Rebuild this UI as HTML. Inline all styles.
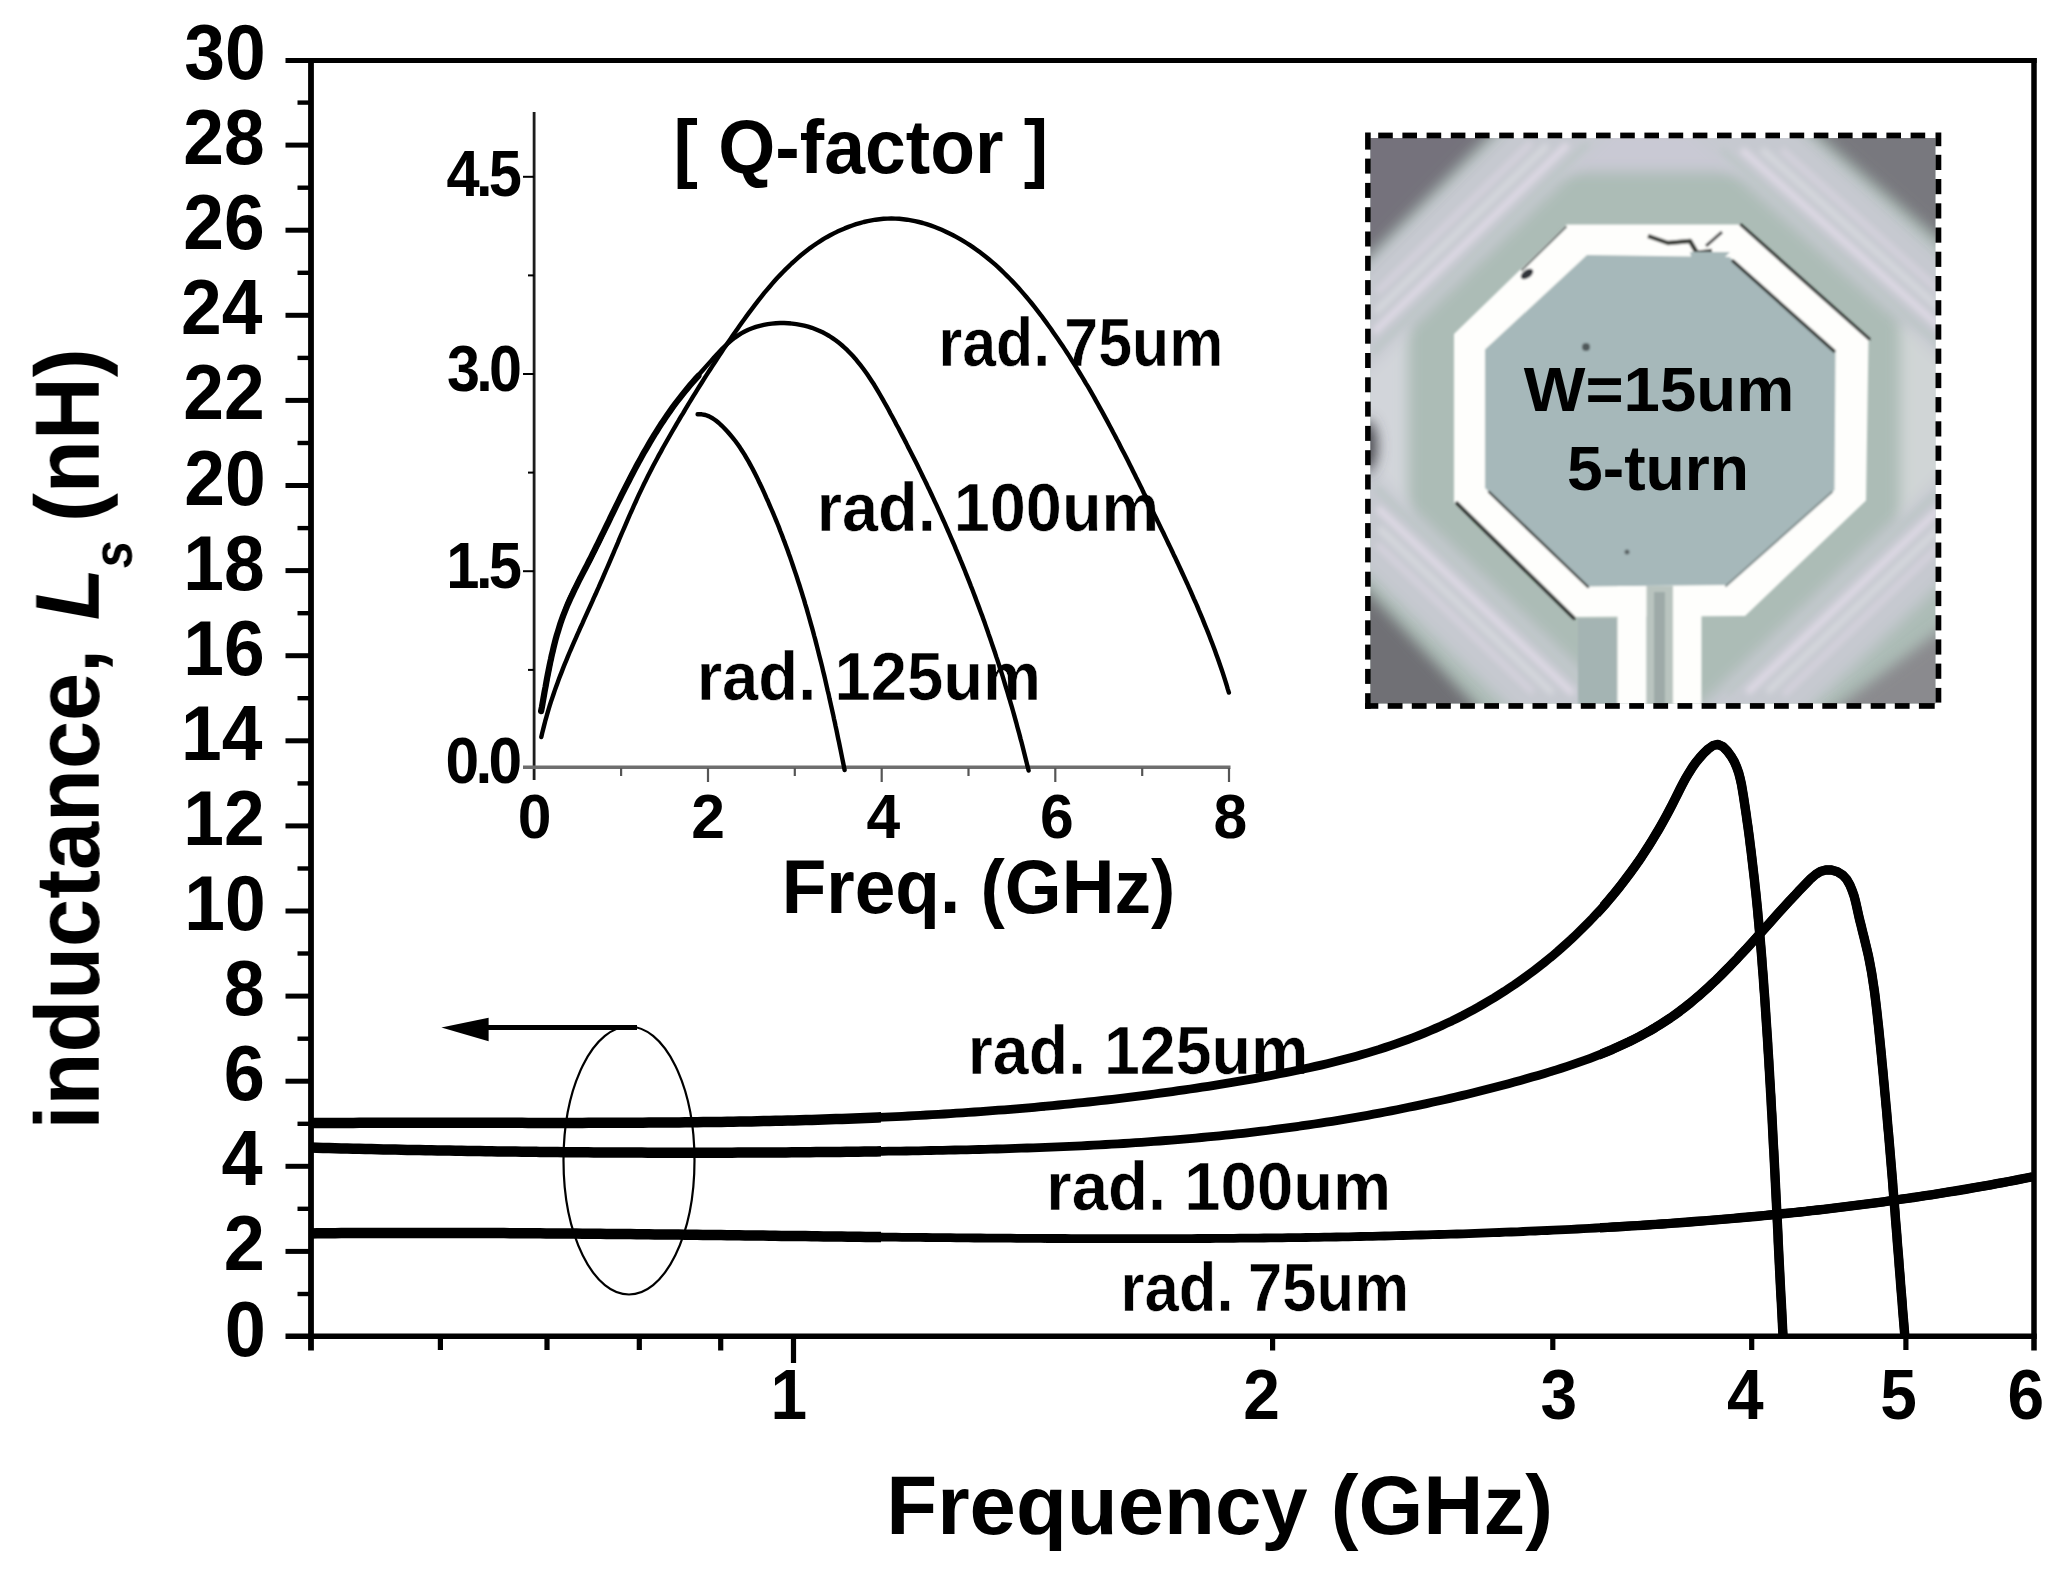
<!DOCTYPE html>
<html lang="en"><head><meta charset="utf-8"><title>Inductance vs Frequency</title>
<style>html,body{margin:0;padding:0;background:#fff}body{width:2070px;height:1585px;overflow:hidden}svg{display:block}text{font-family:"Liberation Sans",sans-serif;font-weight:bold;fill:#000}</style>
</head><body>
<svg width="2070" height="1585" viewBox="0 0 2070 1585">
<defs>
<filter id="b1" x="-5%" y="-5%" width="110%" height="110%"><feGaussianBlur stdDeviation="1.2"/></filter>
<filter id="b3" x="-10%" y="-10%" width="120%" height="120%"><feGaussianBlur stdDeviation="3"/></filter>
<filter id="b6" x="-20%" y="-20%" width="140%" height="140%"><feGaussianBlur stdDeviation="7"/></filter>
<filter id="soft" x="-2%" y="-2%" width="104%" height="104%"><feGaussianBlur stdDeviation="0.6"/></filter>
<clipPath id="pc"><rect x="1370.4" y="138" width="565" height="565.4"/></clipPath>
<clipPath id="mc"><rect x="311.0" y="60.0" width="1721.5" height="1278.5"/></clipPath>
<clipPath id="lc"><rect x="311" y="1000" width="570" height="300"/></clipPath>
<clipPath id="rc"><rect x="1600" y="60" width="440" height="1280"/></clipPath>
</defs>
<rect x="0" y="0" width="2070" height="1585" fill="#fff"/>
<g clip-path="url(#pc)">
<rect x="1366" y="134" width="577" height="574" fill="#acbcb6"/>
<g filter="url(#b6)">
<rect x="1356" y="322" width="52" height="200" fill="#d2d5da"/>
<rect x="1900" y="322" width="52" height="200" fill="#d0d5d6"/>
<rect x="1556" y="126" width="204" height="46" fill="#c9c9d4"/>
</g>
<g transform="translate(1510.5,279.2) rotate(-44.10)">
<g filter="url(#b6)">
<rect x="-260" y="-112" width="520" height="78" fill="#c6c9d0"/>
</g>
<g filter="url(#b3)">
<rect x="-135" y="-60" width="270" height="6" fill="#e2dce8"/>
<rect x="-120" y="-73" width="240" height="5" fill="#dcdde2"/>
<rect x="-105" y="-86" width="215" height="5" fill="#d9d4e0"/>
<rect x="-150" y="-46" width="300" height="5" fill="#bcc6c6"/>
</g>
</g>
<g transform="translate(1804.2,282.0) rotate(41.83)">
<g filter="url(#b6)">
<rect x="-260" y="-112" width="520" height="78" fill="#c6c9d0"/>
</g>
<g filter="url(#b3)">
<rect x="-135" y="-60" width="270" height="6" fill="#e2dce8"/>
<rect x="-120" y="-73" width="240" height="5" fill="#dcdde2"/>
<rect x="-105" y="-86" width="215" height="5" fill="#d9d4e0"/>
<rect x="-150" y="-46" width="300" height="5" fill="#bcc6c6"/>
</g>
</g>
<g transform="translate(1805.5,558.2) rotate(136.33)">
<g filter="url(#b6)">
<rect x="-260" y="-112" width="520" height="78" fill="#c6c9d0"/>
</g>
<g filter="url(#b3)">
<rect x="-135" y="-60" width="270" height="6" fill="#e2dce8"/>
<rect x="-120" y="-73" width="240" height="5" fill="#dcdde2"/>
<rect x="-105" y="-86" width="215" height="5" fill="#d9d4e0"/>
<rect x="-150" y="-46" width="300" height="5" fill="#bcc6c6"/>
</g>
</g>
<g transform="translate(1514.5,559.5) rotate(-136.46)">
<g filter="url(#b6)">
<rect x="-260" y="-112" width="520" height="78" fill="#c6c9d0"/>
</g>
<g filter="url(#b3)">
<rect x="-135" y="-60" width="270" height="6" fill="#e2dce8"/>
<rect x="-120" y="-73" width="240" height="5" fill="#dcdde2"/>
<rect x="-105" y="-86" width="215" height="5" fill="#d9d4e0"/>
<rect x="-150" y="-46" width="300" height="5" fill="#bcc6c6"/>
</g>
</g>
<g filter="url(#b6)">
<polygon points="1340,108 1516,108 1340,284" fill="#74727c"/>
<polygon points="1965,108 1787,108 1965,261" fill="#78787e"/>
<polygon points="1340,733 1340,562 1501,733" fill="#707074"/>
<polygon points="1965,733 1965,612 1802,733" fill="#8a8a8e"/>
<ellipse cx="1366" cy="446" rx="11" ry="26" fill="#44444c"/>
</g>
<g filter="url(#b1)">
<polygon points="1587,255 1729.5,257 1835.5,351.5 1834.5,490 1726,585 1587,586.6 1485,488 1485,349.6" fill="#a6b8ba"/>
<path d="M1567 224.5 L1740 224.5 L1868.5 339.5 L1866 500.5 L1745 616 L1575 617 L1454 502 L1454 334 Z M1587 255 L1729.5 257 L1835.5 351.5 L1834.5 490 L1726 585 L1587 586.6 L1485 488 L1485 349.6 Z" fill="#fefefc" fill-rule="evenodd"/>
<rect x="1617.5" y="586" width="29" height="130" fill="#fefefc"/>
<rect x="1673" y="586" width="28.5" height="130" fill="#fefefc"/>
<rect x="1646.5" y="586" width="26.5" height="130" fill="#b9c4bf"/>
<rect x="1654" y="592" width="11" height="120" fill="#9eaaa8"/>
<rect x="1578" y="619" width="39" height="90" fill="#a4b4b3"/>
<g stroke="#2a2e2c" fill="none" stroke-linecap="round">
<path d="M1741 225 L1869 339" stroke-width="3"/>
<path d="M1733 261 L1834 351" stroke-width="3.2"/>
<path d="M1457 503 L1574 618" stroke-width="3.4"/>
<path d="M1489 492 L1588 587" stroke-width="2.4"/>
<path d="M1566 227 L1522 270" stroke-width="2" stroke="#6a726f"/>
<path d="M1726 586 L1832 492" stroke-width="2" stroke="#7d8a8a"/>
</g>
<path d="M1648 236 L1668 243 L1690 241 L1697 253 L1712 251" stroke="#3a3c38" stroke-width="4.5" fill="none" stroke-linejoin="round"/>
<path d="M1706 246 L1722 232" stroke="#555" stroke-width="3" fill="none"/>
<path d="M1690 252 L1730 252 L1722 260 L1692 260Z" fill="#a6b8b9"/>
<ellipse cx="1527" cy="274" rx="7" ry="4" fill="#30343a" transform="rotate(-35 1527 274)"/>
<circle cx="1586" cy="347" r="4" fill="#50585a"/>
<circle cx="1627" cy="552" r="2.5" fill="#5a6264"/>
</g>
</g>
<g fill="#000">
<rect x="1378.2" y="132.6" width="14.6" height="5.7"/>
<rect x="1402.4" y="132.6" width="14.6" height="5.7"/>
<rect x="1426.6" y="132.6" width="14.6" height="5.7"/>
<rect x="1450.8" y="132.6" width="14.6" height="5.7"/>
<rect x="1475.0" y="132.6" width="14.6" height="5.7"/>
<rect x="1499.2" y="132.6" width="14.6" height="5.7"/>
<rect x="1523.4" y="132.6" width="14.6" height="5.7"/>
<rect x="1547.6" y="132.6" width="14.6" height="5.7"/>
<rect x="1571.8" y="132.6" width="14.6" height="5.7"/>
<rect x="1596.0" y="132.6" width="14.6" height="5.7"/>
<rect x="1620.2" y="132.6" width="14.6" height="5.7"/>
<rect x="1644.4" y="132.6" width="14.6" height="5.7"/>
<rect x="1668.6" y="132.6" width="14.6" height="5.7"/>
<rect x="1692.8" y="132.6" width="14.6" height="5.7"/>
<rect x="1717.0" y="132.6" width="14.6" height="5.7"/>
<rect x="1741.2" y="132.6" width="14.6" height="5.7"/>
<rect x="1765.4" y="132.6" width="14.6" height="5.7"/>
<rect x="1789.6" y="132.6" width="14.6" height="5.7"/>
<rect x="1813.8" y="132.6" width="14.6" height="5.7"/>
<rect x="1838.0" y="132.6" width="14.6" height="5.7"/>
<rect x="1862.2" y="132.6" width="14.6" height="5.7"/>
<rect x="1886.4" y="132.6" width="14.6" height="5.7"/>
<rect x="1910.6" y="132.6" width="14.6" height="5.7"/>
<rect x="1365.1" y="703.1" width="13.2" height="5.7"/>
<rect x="1387.7" y="703.1" width="14.8" height="5.7"/>
<rect x="1411.8" y="703.1" width="14.8" height="5.7"/>
<rect x="1436.0" y="703.1" width="14.8" height="5.7"/>
<rect x="1460.1" y="703.1" width="14.8" height="5.7"/>
<rect x="1484.2" y="703.1" width="14.8" height="5.7"/>
<rect x="1508.4" y="703.1" width="14.8" height="5.7"/>
<rect x="1532.5" y="703.1" width="14.8" height="5.7"/>
<rect x="1556.7" y="703.1" width="14.8" height="5.7"/>
<rect x="1580.8" y="703.1" width="14.8" height="5.7"/>
<rect x="1605.0" y="703.1" width="14.8" height="5.7"/>
<rect x="1629.2" y="703.1" width="14.8" height="5.7"/>
<rect x="1653.3" y="703.1" width="14.8" height="5.7"/>
<rect x="1677.5" y="703.1" width="14.8" height="5.7"/>
<rect x="1701.6" y="703.1" width="14.8" height="5.7"/>
<rect x="1725.8" y="703.1" width="14.8" height="5.7"/>
<rect x="1749.9" y="703.1" width="14.8" height="5.7"/>
<rect x="1774.0" y="703.1" width="14.8" height="5.7"/>
<rect x="1798.2" y="703.1" width="14.8" height="5.7"/>
<rect x="1822.3" y="703.1" width="14.8" height="5.7"/>
<rect x="1846.5" y="703.1" width="14.8" height="5.7"/>
<rect x="1870.7" y="703.1" width="14.8" height="5.7"/>
<rect x="1894.8" y="703.1" width="14.8" height="5.7"/>
<rect x="1918.9" y="703.1" width="15.8" height="5.7"/>
<rect x="1365.1" y="132.5" width="5.6" height="17.1"/>
<rect x="1365.1" y="158.6" width="5.6" height="15.0"/>
<rect x="1365.1" y="182.9" width="5.6" height="15.0"/>
<rect x="1365.1" y="207.2" width="5.6" height="15.0"/>
<rect x="1365.1" y="231.5" width="5.6" height="15.0"/>
<rect x="1365.1" y="255.8" width="5.6" height="15.0"/>
<rect x="1365.1" y="280.1" width="5.6" height="15.0"/>
<rect x="1365.1" y="304.4" width="5.6" height="15.0"/>
<rect x="1365.1" y="328.7" width="5.6" height="15.0"/>
<rect x="1365.1" y="353.0" width="5.6" height="15.0"/>
<rect x="1365.1" y="377.3" width="5.6" height="15.0"/>
<rect x="1365.1" y="401.6" width="5.6" height="15.0"/>
<rect x="1365.1" y="425.9" width="5.6" height="15.0"/>
<rect x="1365.1" y="450.2" width="5.6" height="15.0"/>
<rect x="1365.1" y="474.5" width="5.6" height="15.0"/>
<rect x="1365.1" y="498.8" width="5.6" height="15.0"/>
<rect x="1365.1" y="523.1" width="5.6" height="15.0"/>
<rect x="1365.1" y="547.4" width="5.6" height="15.0"/>
<rect x="1365.1" y="571.7" width="5.6" height="15.0"/>
<rect x="1365.1" y="596.0" width="5.6" height="15.0"/>
<rect x="1365.1" y="620.3" width="5.6" height="15.0"/>
<rect x="1365.1" y="644.6" width="5.6" height="15.0"/>
<rect x="1365.1" y="668.9" width="5.6" height="15.0"/>
<rect x="1365.1" y="693.2" width="5.6" height="15.6"/>
<rect x="1935.5" y="132.5" width="5.8" height="13.7"/>
<rect x="1935.5" y="154.8" width="5.8" height="15.2"/>
<rect x="1935.5" y="179.0" width="5.8" height="15.2"/>
<rect x="1935.5" y="203.3" width="5.8" height="15.2"/>
<rect x="1935.5" y="227.5" width="5.8" height="15.2"/>
<rect x="1935.5" y="251.7" width="5.8" height="15.2"/>
<rect x="1935.5" y="276.0" width="5.8" height="15.2"/>
<rect x="1935.5" y="300.2" width="5.8" height="15.2"/>
<rect x="1935.5" y="324.4" width="5.8" height="15.2"/>
<rect x="1935.5" y="348.6" width="5.8" height="15.2"/>
<rect x="1935.5" y="372.9" width="5.8" height="15.2"/>
<rect x="1935.5" y="397.1" width="5.8" height="15.2"/>
<rect x="1935.5" y="421.3" width="5.8" height="15.2"/>
<rect x="1935.5" y="445.6" width="5.8" height="15.2"/>
<rect x="1935.5" y="469.8" width="5.8" height="15.2"/>
<rect x="1935.5" y="494.0" width="5.8" height="15.2"/>
<rect x="1935.5" y="518.2" width="5.8" height="15.2"/>
<rect x="1935.5" y="542.5" width="5.8" height="15.2"/>
<rect x="1935.5" y="566.7" width="5.8" height="15.2"/>
<rect x="1935.5" y="590.9" width="5.8" height="15.2"/>
<rect x="1935.5" y="615.2" width="5.8" height="15.2"/>
<rect x="1935.5" y="639.4" width="5.8" height="15.2"/>
<rect x="1935.5" y="663.6" width="5.8" height="15.2"/>
<rect x="1935.5" y="687.9" width="5.8" height="14.7"/>
</g>
<text transform="translate(1523.80,411.00) scale(1.0318,1)" font-size="63.32">W=15um</text>
<text transform="translate(1567.00,489.70) scale(1.0152,1)" font-size="63.32">5-turn</text>
<g filter="url(#soft)">
<g stroke="#000" fill="none">
<line x1="285.5" y1="60.4" x2="2036.7" y2="60.4" stroke-width="5"/>
<line x1="311" y1="58" x2="311" y2="1350.6" stroke-width="5.8"/>
<line x1="285.5" y1="1336.3" x2="2036.7" y2="1336.3" stroke-width="5.4"/>
<line x1="2034" y1="58" x2="2034" y2="1350.6" stroke-width="5.5"/>
<line x1="297.5" y1="1294.0" x2="311" y2="1294.0" stroke-width="4.4"/>
<line x1="285.5" y1="1251.4" x2="311" y2="1251.4" stroke-width="5"/>
<line x1="297.5" y1="1208.8" x2="311" y2="1208.8" stroke-width="4.4"/>
<line x1="285.5" y1="1166.3" x2="311" y2="1166.3" stroke-width="5"/>
<line x1="297.5" y1="1123.8" x2="311" y2="1123.8" stroke-width="4.4"/>
<line x1="285.5" y1="1081.2" x2="311" y2="1081.2" stroke-width="5"/>
<line x1="297.5" y1="1038.7" x2="311" y2="1038.7" stroke-width="4.4"/>
<line x1="285.5" y1="996.1" x2="311" y2="996.1" stroke-width="5"/>
<line x1="297.5" y1="953.5" x2="311" y2="953.5" stroke-width="4.4"/>
<line x1="285.5" y1="911.0" x2="311" y2="911.0" stroke-width="5"/>
<line x1="297.5" y1="868.5" x2="311" y2="868.5" stroke-width="4.4"/>
<line x1="285.5" y1="825.9" x2="311" y2="825.9" stroke-width="5"/>
<line x1="297.5" y1="783.4" x2="311" y2="783.4" stroke-width="4.4"/>
<line x1="285.5" y1="740.8" x2="311" y2="740.8" stroke-width="5"/>
<line x1="297.5" y1="698.2" x2="311" y2="698.2" stroke-width="4.4"/>
<line x1="285.5" y1="655.7" x2="311" y2="655.7" stroke-width="5"/>
<line x1="297.5" y1="613.2" x2="311" y2="613.2" stroke-width="4.4"/>
<line x1="285.5" y1="570.6" x2="311" y2="570.6" stroke-width="5"/>
<line x1="297.5" y1="528.1" x2="311" y2="528.1" stroke-width="4.4"/>
<line x1="285.5" y1="485.5" x2="311" y2="485.5" stroke-width="5"/>
<line x1="297.5" y1="443.0" x2="311" y2="443.0" stroke-width="4.4"/>
<line x1="285.5" y1="400.4" x2="311" y2="400.4" stroke-width="5"/>
<line x1="297.5" y1="357.9" x2="311" y2="357.9" stroke-width="4.4"/>
<line x1="285.5" y1="315.3" x2="311" y2="315.3" stroke-width="5"/>
<line x1="297.5" y1="272.8" x2="311" y2="272.8" stroke-width="4.4"/>
<line x1="285.5" y1="230.2" x2="311" y2="230.2" stroke-width="5"/>
<line x1="297.5" y1="187.7" x2="311" y2="187.7" stroke-width="4.4"/>
<line x1="285.5" y1="145.1" x2="311" y2="145.1" stroke-width="5"/>
<line x1="297.5" y1="102.6" x2="311" y2="102.6" stroke-width="4.4"/>
<line x1="440.4" y1="1336" x2="440.4" y2="1350.0" stroke-width="5.2"/>
<line x1="547.0" y1="1336" x2="547.0" y2="1350.0" stroke-width="5.2"/>
<line x1="639.3" y1="1336" x2="639.3" y2="1350.0" stroke-width="5.2"/>
<line x1="720.7" y1="1336" x2="720.7" y2="1350.5" stroke-width="5.2"/>
<line x1="793.5" y1="1336" x2="793.5" y2="1363.0" stroke-width="5.2"/>
<line x1="1272.6" y1="1336" x2="1272.6" y2="1350.5" stroke-width="5.2"/>
<line x1="1552.8" y1="1336" x2="1552.8" y2="1350.0" stroke-width="5.2"/>
<line x1="1751.7" y1="1336" x2="1751.7" y2="1350.0" stroke-width="5.2"/>
<line x1="1905.9" y1="1336" x2="1905.9" y2="1350.0" stroke-width="5.2"/>
</g>
<text transform="translate(224.87,1355.50) scale(0.9500,1)" font-size="77.85">0</text>
<text transform="translate(223.71,1270.40) scale(0.9500,1)" font-size="77.85">2</text>
<text transform="translate(221.40,1185.30) scale(0.9500,1)" font-size="77.85">4</text>
<text transform="translate(223.71,1100.20) scale(0.9500,1)" font-size="77.85">6</text>
<text transform="translate(223.71,1015.10) scale(0.9500,1)" font-size="77.85">8</text>
<text transform="translate(184.37,930.00) scale(0.9400,1)" font-size="77.85">10</text>
<text transform="translate(183.22,844.90) scale(0.9400,1)" font-size="77.85">12</text>
<text transform="translate(180.94,759.80) scale(0.9400,1)" font-size="77.85">14</text>
<text transform="translate(183.22,674.70) scale(0.9400,1)" font-size="77.85">16</text>
<text transform="translate(183.22,589.60) scale(0.9400,1)" font-size="77.85">18</text>
<text transform="translate(184.37,504.50) scale(0.9400,1)" font-size="77.85">20</text>
<text transform="translate(183.22,419.40) scale(0.9400,1)" font-size="77.85">22</text>
<text transform="translate(180.94,334.30) scale(0.9400,1)" font-size="77.85">24</text>
<text transform="translate(183.22,249.20) scale(0.9400,1)" font-size="77.85">26</text>
<text transform="translate(183.22,164.10) scale(0.9400,1)" font-size="77.85">28</text>
<text transform="translate(184.37,79.00) scale(0.9400,1)" font-size="77.85">30</text>
<text transform="translate(770.55,1419.30) scale(0.9400,1)" font-size="70.06">1</text>
<text transform="translate(1243.33,1419.30) scale(0.9400,1)" font-size="70.06">2</text>
<text transform="translate(1540.39,1419.30) scale(0.9400,1)" font-size="70.06">3</text>
<text transform="translate(1726.98,1419.30) scale(0.9400,1)" font-size="70.06">4</text>
<text transform="translate(1880.29,1419.30) scale(0.9400,1)" font-size="70.06">5</text>
<text transform="translate(2007.43,1419.30) scale(0.9400,1)" font-size="70.06">6</text>
<text transform="translate(886.29,1533.80) scale(1.0035,1)" font-size="83.04">Frequency (GHz)</text>
<g transform="translate(98.7,1130) rotate(-90)">
<text transform="translate(0.60,0.00) scale(0.9576,1)" font-size="90.31">inductance,</text>
<text transform="translate(509.86,0.00) scale(0.9476,1)" font-size="90.31" font-style="italic">L</text>
<text transform="translate(561.70,33.40) scale(0.8982,1)" font-size="55.53" font-style="italic">s</text>
<text transform="translate(607.92,0.00) scale(0.9629,1)" font-size="90.31">(nH)</text>
</g>
<text transform="translate(967.72,1074.45) scale(0.9322,1)" font-size="69.23" stroke="#fff" stroke-width="0.54">rad. 125um</text>
<text transform="translate(1046.37,1209.75) scale(0.9434,1)" font-size="69.23" stroke="#fff" stroke-width="0.53">rad. 100um</text>
<text transform="translate(1120.50,1311.25) scale(0.8904,1)" font-size="69.23" style="word-spacing:-3px;" stroke="#fff" stroke-width="0.56">rad. 75um</text>
<g fill="none" stroke="#000" stroke-linejoin="round" clip-path="url(#mc)">
<path d="M311.1 1123.1 L317.1 1123.1 L323.1 1123.0 L329.1 1123.0 L335.2 1123.0 L341.2 1122.9 L347.2 1122.9 L353.2 1122.9 L359.3 1122.8 L365.3 1122.8 L371.3 1122.8 L377.3 1122.8 L383.3 1122.8 L389.4 1122.8 L395.4 1122.8 L401.4 1122.7 L407.5 1122.7 L413.5 1122.7 L419.5 1122.7 L425.5 1122.7 L431.6 1122.7 L437.6 1122.7 L443.6 1122.7 L449.7 1122.8 L455.7 1122.8 L461.7 1122.8 L467.8 1122.8 L473.8 1122.8 L479.8 1122.8 L485.9 1122.8 L491.9 1122.8 L497.9 1122.8 L504.0 1122.8 L510.0 1122.8 L516.0 1122.8 L522.1 1122.8 L528.1 1122.9 L534.1 1122.9 L540.2 1122.9 L546.2 1122.9 L552.3 1122.9 L558.3 1122.9 L564.3 1122.9 L570.4 1122.9 L576.4 1122.9 L582.4 1122.9 L588.5 1122.8 L594.5 1122.8 L600.6 1122.8 L606.6 1122.8 L612.6 1122.8 L618.7 1122.8 L624.7 1122.7 L630.7 1122.7 L636.8 1122.7 L642.8 1122.7 L648.9 1122.6 L654.9 1122.6 L660.9 1122.5 L667.0 1122.5 L673.0 1122.4 L679.1 1122.4 L685.1 1122.3 L691.1 1122.3 L697.2 1122.2 L703.2 1122.1 L709.2 1122.0 L715.3 1122.0 L721.3 1121.9 L727.3 1121.8 L733.4 1121.7 L739.4 1121.6 L745.5 1121.5 L751.5 1121.4 L757.5 1121.2 L763.6 1121.1 L769.6 1121.0 L775.6 1120.8 L781.7 1120.7 L787.7 1120.5 L793.7 1120.4 L799.8 1120.2 L805.8 1120.1 L811.8 1119.9 L817.9 1119.7 L823.9 1119.5 L829.9 1119.3 L835.9 1119.1 L842.0 1118.9 L848.0 1118.7 L854.0 1118.4 L860.1 1118.2 L866.1 1118.0 L872.1 1117.7 L878.1 1117.4 L884.2 1117.2 L890.2 1116.9 L896.2 1116.6 L902.2 1116.3 L908.3 1116.0 L914.3 1115.7 L920.3 1115.4 L926.3 1115.0 L932.3 1114.7 L938.4 1114.3 L944.4 1114.0 L950.4 1113.6 L956.4 1113.2 L962.4 1112.8 L968.4 1112.4 L974.5 1112.0 L980.5 1111.6 L986.5 1111.1 L992.5 1110.7 L998.5 1110.2 L1004.5 1109.8 L1010.5 1109.3 L1016.5 1108.8 L1022.5 1108.3 L1028.5 1107.8 L1034.5 1107.3 L1040.6 1106.7 L1046.6 1106.2 L1052.6 1105.6 L1058.6 1105.0 L1064.6 1104.4 L1070.6 1103.8 L1076.6 1103.2 L1082.6 1102.6 L1088.5 1102.0 L1094.5 1101.3 L1100.5 1100.6 L1106.5 1100.0 L1112.5 1099.3 L1118.5 1098.6 L1124.5 1097.9 L1130.5 1097.1 L1136.5 1096.4 L1142.5 1095.6 L1148.4 1094.8 L1154.4 1094.0 L1160.4 1093.2 L1166.4 1092.4 L1172.4 1091.6 L1178.3 1090.7 L1184.3 1089.9 L1190.3 1089.0 L1196.3 1088.1 L1202.2 1087.2 L1208.2 1086.3 L1214.2 1085.3 L1220.1 1084.4 L1226.1 1083.4 L1232.1 1082.4 L1238.0 1081.4 L1244.0 1080.4 L1249.9 1079.3 L1255.9 1078.3 L1261.9 1077.2 L1267.8 1076.1 L1273.8 1075.0 L1279.7 1073.8 L1285.6 1072.7 L1291.6 1071.5 L1297.5 1070.3 L1303.4 1069.0 L1309.3 1067.7 L1315.2 1066.4 L1321.1 1065.1 L1327.0 1063.7 L1332.9 1062.3 L1338.7 1060.8 L1344.5 1059.3 L1350.4 1057.8 L1356.2 1056.2 L1362.0 1054.6 L1367.8 1052.9 L1373.5 1051.1 L1379.3 1049.4 L1385.0 1047.5 L1390.7 1045.6 L1396.4 1043.7 L1402.0 1041.7 L1407.7 1039.6 L1413.3 1037.5 L1418.9 1035.3 L1424.4 1033.1 L1430.0 1030.8 L1435.5 1028.4 L1441.0 1026.0 L1446.4 1023.4 L1451.9 1020.9 L1457.3 1018.2 L1462.7 1015.5 L1468.0 1012.7 L1473.3 1009.8 L1478.6 1006.9 L1483.8 1003.9 L1489.0 1000.8 L1494.2 997.7 L1499.3 994.5 L1504.4 991.3 L1509.5 987.9 L1514.5 984.6 L1519.5 981.1 L1524.4 977.6 L1529.3 974.0 L1534.1 970.4 L1538.9 966.7 L1543.7 963.0 L1548.4 959.2 L1553.1 955.3 L1557.7 951.4 L1562.2 947.4 L1566.7 943.4 L1571.2 939.3 L1575.6 935.1 L1579.9 930.9 L1584.2 926.6 L1588.5 922.3 L1592.7 918.0 L1596.8 913.6 L1600.9 909.1 L1604.9 904.6 L1608.8 900.0 L1612.7 895.4 L1616.5 890.7 L1620.3 886.0 L1624.0 881.2 L1627.6 876.4 L1631.2 871.6 L1634.7 866.7 L1638.2 861.8 L1641.6 856.8 L1644.9 851.7 L1648.2 846.7 L1651.4 841.6 L1654.5 836.4 L1657.6 831.3 L1660.6 826.1 L1663.6 820.8 L1666.5 815.5 L1669.3 810.2 L1672.1 804.9 L1674.8 799.5 L1677.5 794.1 L1680.2 788.7 L1682.9 783.4 L1685.8 778.1 L1688.9 772.9 L1692.1 767.8 L1695.6 762.8 L1699.5 758.0 L1703.6 753.4 L1708.2 749.0 L1713.1 745.5 L1718.1 744.4 L1723.1 746.8 L1727.6 751.4 L1731.3 756.5 L1734.3 761.7 L1736.7 767.2 L1738.7 772.9 L1740.2 778.7 L1741.5 784.6 L1742.5 790.6 L1743.5 796.5 L1744.4 802.5 L1745.3 808.5 L1746.2 814.5 L1747.0 820.5 L1747.9 826.5 L1748.7 832.5 L1749.5 838.5 L1750.2 844.5 L1751.0 850.5 L1751.7 856.5 L1752.4 862.5 L1753.1 868.5 L1753.8 874.5 L1754.5 880.5 L1755.1 886.5 L1755.8 892.5 L1756.4 898.5 L1757.0 904.5 L1757.6 910.5 L1758.1 916.5 L1758.7 922.5 L1759.2 928.5 L1759.8 934.5 L1760.3 940.5 L1760.8 946.5 L1761.3 952.5 L1761.8 958.5 L1762.2 964.5 L1762.7 970.6 L1763.2 976.6 L1763.6 982.6 L1764.0 988.6 L1764.5 994.6 L1764.9 1000.6 L1765.3 1006.6 L1765.7 1012.6 L1766.1 1018.7 L1766.5 1024.7 L1766.9 1030.7 L1767.3 1036.7 L1767.7 1042.7 L1768.0 1048.8 L1768.4 1054.8 L1768.8 1060.8 L1769.1 1066.8 L1769.5 1072.8 L1769.8 1078.9 L1770.2 1084.9 L1770.5 1090.9 L1770.9 1096.9 L1771.2 1103.0 L1771.5 1109.0 L1771.9 1115.0 L1772.2 1121.1 L1772.5 1127.1 L1772.8 1133.1 L1773.1 1139.1 L1773.4 1145.2 L1773.8 1151.2 L1774.1 1157.2 L1774.4 1163.3 L1774.7 1169.3 L1775.0 1175.3 L1775.3 1181.3 L1775.6 1187.4 L1775.9 1193.4 L1776.2 1199.4 L1776.5 1205.5 L1776.8 1211.5 L1777.1 1217.5 L1777.4 1223.5 L1777.7 1229.6 L1778.0 1235.6 L1778.2 1241.6 L1778.5 1247.6 L1778.8 1253.7 L1779.1 1259.7 L1779.4 1265.7 L1779.7 1271.7 L1780.0 1277.8 L1780.3 1283.8 L1780.6 1289.8 L1780.9 1295.8 L1781.3 1301.9 L1781.6 1307.9 L1781.9 1313.9 L1782.2 1319.9 L1782.5 1325.9 L1782.8 1332.0 L1783.2 1338.0" stroke-width="8.8"/>
<path d="M311.1 1123.1 L317.1 1123.1 L323.1 1123.0 L329.1 1123.0 L335.2 1123.0 L341.2 1122.9 L347.2 1122.9 L353.2 1122.9 L359.3 1122.8 L365.3 1122.8 L371.3 1122.8 L377.3 1122.8 L383.3 1122.8 L389.4 1122.8 L395.4 1122.8 L401.4 1122.7 L407.5 1122.7 L413.5 1122.7 L419.5 1122.7 L425.5 1122.7 L431.6 1122.7 L437.6 1122.7 L443.6 1122.7 L449.7 1122.8 L455.7 1122.8 L461.7 1122.8 L467.8 1122.8 L473.8 1122.8 L479.8 1122.8 L485.9 1122.8 L491.9 1122.8 L497.9 1122.8 L504.0 1122.8 L510.0 1122.8 L516.0 1122.8 L522.1 1122.8 L528.1 1122.9 L534.1 1122.9 L540.2 1122.9 L546.2 1122.9 L552.3 1122.9 L558.3 1122.9 L564.3 1122.9 L570.4 1122.9 L576.4 1122.9 L582.4 1122.9 L588.5 1122.8 L594.5 1122.8 L600.6 1122.8 L606.6 1122.8 L612.6 1122.8 L618.7 1122.8 L624.7 1122.7 L630.7 1122.7 L636.8 1122.7 L642.8 1122.7 L648.9 1122.6 L654.9 1122.6 L660.9 1122.5 L667.0 1122.5 L673.0 1122.4 L679.1 1122.4 L685.1 1122.3 L691.1 1122.3 L697.2 1122.2 L703.2 1122.1 L709.2 1122.0 L715.3 1122.0 L721.3 1121.9 L727.3 1121.8 L733.4 1121.7 L739.4 1121.6 L745.5 1121.5 L751.5 1121.4 L757.5 1121.2 L763.6 1121.1 L769.6 1121.0 L775.6 1120.8 L781.7 1120.7 L787.7 1120.5 L793.7 1120.4 L799.8 1120.2 L805.8 1120.1 L811.8 1119.9 L817.9 1119.7 L823.9 1119.5 L829.9 1119.3 L835.9 1119.1 L842.0 1118.9 L848.0 1118.7 L854.0 1118.4 L860.1 1118.2 L866.1 1118.0 L872.1 1117.7 L878.1 1117.4 L884.2 1117.2 L890.2 1116.9 L896.2 1116.6 L902.2 1116.3 L908.3 1116.0 L914.3 1115.7 L920.3 1115.4 L926.3 1115.0 L932.3 1114.7 L938.4 1114.3 L944.4 1114.0 L950.4 1113.6 L956.4 1113.2 L962.4 1112.8 L968.4 1112.4 L974.5 1112.0 L980.5 1111.6 L986.5 1111.1 L992.5 1110.7 L998.5 1110.2 L1004.5 1109.8 L1010.5 1109.3 L1016.5 1108.8 L1022.5 1108.3 L1028.5 1107.8 L1034.5 1107.3 L1040.6 1106.7 L1046.6 1106.2 L1052.6 1105.6 L1058.6 1105.0 L1064.6 1104.4 L1070.6 1103.8 L1076.6 1103.2 L1082.6 1102.6 L1088.5 1102.0 L1094.5 1101.3 L1100.5 1100.6 L1106.5 1100.0 L1112.5 1099.3 L1118.5 1098.6 L1124.5 1097.9 L1130.5 1097.1 L1136.5 1096.4 L1142.5 1095.6 L1148.4 1094.8 L1154.4 1094.0 L1160.4 1093.2 L1166.4 1092.4 L1172.4 1091.6 L1178.3 1090.7 L1184.3 1089.9 L1190.3 1089.0 L1196.3 1088.1 L1202.2 1087.2 L1208.2 1086.3 L1214.2 1085.3 L1220.1 1084.4 L1226.1 1083.4 L1232.1 1082.4 L1238.0 1081.4 L1244.0 1080.4 L1249.9 1079.3 L1255.9 1078.3 L1261.9 1077.2 L1267.8 1076.1 L1273.8 1075.0 L1279.7 1073.8 L1285.6 1072.7 L1291.6 1071.5 L1297.5 1070.3 L1303.4 1069.0 L1309.3 1067.7 L1315.2 1066.4 L1321.1 1065.1 L1327.0 1063.7 L1332.9 1062.3 L1338.7 1060.8 L1344.5 1059.3 L1350.4 1057.8 L1356.2 1056.2 L1362.0 1054.6 L1367.8 1052.9 L1373.5 1051.1 L1379.3 1049.4 L1385.0 1047.5 L1390.7 1045.6 L1396.4 1043.7 L1402.0 1041.7 L1407.7 1039.6 L1413.3 1037.5 L1418.9 1035.3 L1424.4 1033.1 L1430.0 1030.8 L1435.5 1028.4 L1441.0 1026.0 L1446.4 1023.4 L1451.9 1020.9 L1457.3 1018.2 L1462.7 1015.5 L1468.0 1012.7 L1473.3 1009.8 L1478.6 1006.9 L1483.8 1003.9 L1489.0 1000.8 L1494.2 997.7 L1499.3 994.5 L1504.4 991.3 L1509.5 987.9 L1514.5 984.6 L1519.5 981.1 L1524.4 977.6 L1529.3 974.0 L1534.1 970.4 L1538.9 966.7 L1543.7 963.0 L1548.4 959.2 L1553.1 955.3 L1557.7 951.4 L1562.2 947.4 L1566.7 943.4 L1571.2 939.3 L1575.6 935.1 L1579.9 930.9 L1584.2 926.6 L1588.5 922.3 L1592.7 918.0 L1596.8 913.6 L1600.9 909.1 L1604.9 904.6 L1608.8 900.0 L1612.7 895.4 L1616.5 890.7 L1620.3 886.0 L1624.0 881.2 L1627.6 876.4 L1631.2 871.6 L1634.7 866.7 L1638.2 861.8 L1641.6 856.8 L1644.9 851.7 L1648.2 846.7 L1651.4 841.6 L1654.5 836.4 L1657.6 831.3 L1660.6 826.1 L1663.6 820.8 L1666.5 815.5 L1669.3 810.2 L1672.1 804.9 L1674.8 799.5 L1677.5 794.1 L1680.2 788.7 L1682.9 783.4 L1685.8 778.1 L1688.9 772.9 L1692.1 767.8 L1695.6 762.8 L1699.5 758.0 L1703.6 753.4 L1708.2 749.0 L1713.1 745.5 L1718.1 744.4 L1723.1 746.8 L1727.6 751.4 L1731.3 756.5 L1734.3 761.7 L1736.7 767.2 L1738.7 772.9 L1740.2 778.7 L1741.5 784.6 L1742.5 790.6 L1743.5 796.5 L1744.4 802.5 L1745.3 808.5 L1746.2 814.5 L1747.0 820.5 L1747.9 826.5 L1748.7 832.5 L1749.5 838.5 L1750.2 844.5 L1751.0 850.5 L1751.7 856.5 L1752.4 862.5 L1753.1 868.5 L1753.8 874.5 L1754.5 880.5 L1755.1 886.5 L1755.8 892.5 L1756.4 898.5 L1757.0 904.5 L1757.6 910.5 L1758.1 916.5 L1758.7 922.5 L1759.2 928.5 L1759.8 934.5 L1760.3 940.5 L1760.8 946.5 L1761.3 952.5 L1761.8 958.5 L1762.2 964.5 L1762.7 970.6 L1763.2 976.6 L1763.6 982.6 L1764.0 988.6 L1764.5 994.6 L1764.9 1000.6 L1765.3 1006.6 L1765.7 1012.6 L1766.1 1018.7 L1766.5 1024.7 L1766.9 1030.7 L1767.3 1036.7 L1767.7 1042.7 L1768.0 1048.8 L1768.4 1054.8 L1768.8 1060.8 L1769.1 1066.8 L1769.5 1072.8 L1769.8 1078.9 L1770.2 1084.9 L1770.5 1090.9 L1770.9 1096.9 L1771.2 1103.0 L1771.5 1109.0 L1771.9 1115.0 L1772.2 1121.1 L1772.5 1127.1 L1772.8 1133.1 L1773.1 1139.1 L1773.4 1145.2 L1773.8 1151.2 L1774.1 1157.2 L1774.4 1163.3 L1774.7 1169.3 L1775.0 1175.3 L1775.3 1181.3 L1775.6 1187.4 L1775.9 1193.4 L1776.2 1199.4 L1776.5 1205.5 L1776.8 1211.5 L1777.1 1217.5 L1777.4 1223.5 L1777.7 1229.6 L1778.0 1235.6 L1778.2 1241.6 L1778.5 1247.6 L1778.8 1253.7 L1779.1 1259.7 L1779.4 1265.7 L1779.7 1271.7 L1780.0 1277.8 L1780.3 1283.8 L1780.6 1289.8 L1780.9 1295.8 L1781.3 1301.9 L1781.6 1307.9 L1781.9 1313.9 L1782.2 1319.9 L1782.5 1325.9 L1782.8 1332.0 L1783.2 1338.0" stroke-width="9.4" clip-path="url(#rc)"/>
<path d="M311.1 1123.1 L317.1 1123.1 L323.1 1123.0 L329.1 1123.0 L335.2 1123.0 L341.2 1122.9 L347.2 1122.9 L353.2 1122.9 L359.3 1122.8 L365.3 1122.8 L371.3 1122.8 L377.3 1122.8 L383.3 1122.8 L389.4 1122.8 L395.4 1122.8 L401.4 1122.7 L407.5 1122.7 L413.5 1122.7 L419.5 1122.7 L425.5 1122.7 L431.6 1122.7 L437.6 1122.7 L443.6 1122.7 L449.7 1122.8 L455.7 1122.8 L461.7 1122.8 L467.8 1122.8 L473.8 1122.8 L479.8 1122.8 L485.9 1122.8 L491.9 1122.8 L497.9 1122.8 L504.0 1122.8 L510.0 1122.8 L516.0 1122.8 L522.1 1122.8 L528.1 1122.9 L534.1 1122.9 L540.2 1122.9 L546.2 1122.9 L552.3 1122.9 L558.3 1122.9 L564.3 1122.9 L570.4 1122.9 L576.4 1122.9 L582.4 1122.9 L588.5 1122.8 L594.5 1122.8 L600.6 1122.8 L606.6 1122.8 L612.6 1122.8 L618.7 1122.8 L624.7 1122.7 L630.7 1122.7 L636.8 1122.7 L642.8 1122.7 L648.9 1122.6 L654.9 1122.6 L660.9 1122.5 L667.0 1122.5 L673.0 1122.4 L679.1 1122.4 L685.1 1122.3 L691.1 1122.3 L697.2 1122.2 L703.2 1122.1 L709.2 1122.0 L715.3 1122.0 L721.3 1121.9 L727.3 1121.8 L733.4 1121.7 L739.4 1121.6 L745.5 1121.5 L751.5 1121.4 L757.5 1121.2 L763.6 1121.1 L769.6 1121.0 L775.6 1120.8 L781.7 1120.7 L787.7 1120.5 L793.7 1120.4 L799.8 1120.2 L805.8 1120.1 L811.8 1119.9 L817.9 1119.7 L823.9 1119.5 L829.9 1119.3 L835.9 1119.1 L842.0 1118.9 L848.0 1118.7 L854.0 1118.4 L860.1 1118.2 L866.1 1118.0 L872.1 1117.7 L878.1 1117.4 L884.2 1117.2 L890.2 1116.9 L896.2 1116.6 L902.2 1116.3 L908.3 1116.0 L914.3 1115.7 L920.3 1115.4 L926.3 1115.0 L932.3 1114.7 L938.4 1114.3 L944.4 1114.0 L950.4 1113.6 L956.4 1113.2 L962.4 1112.8 L968.4 1112.4 L974.5 1112.0 L980.5 1111.6 L986.5 1111.1 L992.5 1110.7 L998.5 1110.2 L1004.5 1109.8 L1010.5 1109.3 L1016.5 1108.8 L1022.5 1108.3 L1028.5 1107.8 L1034.5 1107.3 L1040.6 1106.7 L1046.6 1106.2 L1052.6 1105.6 L1058.6 1105.0 L1064.6 1104.4 L1070.6 1103.8 L1076.6 1103.2 L1082.6 1102.6 L1088.5 1102.0 L1094.5 1101.3 L1100.5 1100.6 L1106.5 1100.0 L1112.5 1099.3 L1118.5 1098.6 L1124.5 1097.9 L1130.5 1097.1 L1136.5 1096.4 L1142.5 1095.6 L1148.4 1094.8 L1154.4 1094.0 L1160.4 1093.2 L1166.4 1092.4 L1172.4 1091.6 L1178.3 1090.7 L1184.3 1089.9 L1190.3 1089.0 L1196.3 1088.1 L1202.2 1087.2 L1208.2 1086.3 L1214.2 1085.3 L1220.1 1084.4 L1226.1 1083.4 L1232.1 1082.4 L1238.0 1081.4 L1244.0 1080.4 L1249.9 1079.3 L1255.9 1078.3 L1261.9 1077.2 L1267.8 1076.1 L1273.8 1075.0 L1279.7 1073.8 L1285.6 1072.7 L1291.6 1071.5 L1297.5 1070.3 L1303.4 1069.0 L1309.3 1067.7 L1315.2 1066.4 L1321.1 1065.1 L1327.0 1063.7 L1332.9 1062.3 L1338.7 1060.8 L1344.5 1059.3 L1350.4 1057.8 L1356.2 1056.2 L1362.0 1054.6 L1367.8 1052.9 L1373.5 1051.1 L1379.3 1049.4 L1385.0 1047.5 L1390.7 1045.6 L1396.4 1043.7 L1402.0 1041.7 L1407.7 1039.6 L1413.3 1037.5 L1418.9 1035.3 L1424.4 1033.1 L1430.0 1030.8 L1435.5 1028.4 L1441.0 1026.0 L1446.4 1023.4 L1451.9 1020.9 L1457.3 1018.2 L1462.7 1015.5 L1468.0 1012.7 L1473.3 1009.8 L1478.6 1006.9 L1483.8 1003.9 L1489.0 1000.8 L1494.2 997.7 L1499.3 994.5 L1504.4 991.3 L1509.5 987.9 L1514.5 984.6 L1519.5 981.1 L1524.4 977.6 L1529.3 974.0 L1534.1 970.4 L1538.9 966.7 L1543.7 963.0 L1548.4 959.2 L1553.1 955.3 L1557.7 951.4 L1562.2 947.4 L1566.7 943.4 L1571.2 939.3 L1575.6 935.1 L1579.9 930.9 L1584.2 926.6 L1588.5 922.3 L1592.7 918.0 L1596.8 913.6 L1600.9 909.1 L1604.9 904.6 L1608.8 900.0 L1612.7 895.4 L1616.5 890.7 L1620.3 886.0 L1624.0 881.2 L1627.6 876.4 L1631.2 871.6 L1634.7 866.7 L1638.2 861.8 L1641.6 856.8 L1644.9 851.7 L1648.2 846.7 L1651.4 841.6 L1654.5 836.4 L1657.6 831.3 L1660.6 826.1 L1663.6 820.8 L1666.5 815.5 L1669.3 810.2 L1672.1 804.9 L1674.8 799.5 L1677.5 794.1 L1680.2 788.7 L1682.9 783.4 L1685.8 778.1 L1688.9 772.9 L1692.1 767.8 L1695.6 762.8 L1699.5 758.0 L1703.6 753.4 L1708.2 749.0 L1713.1 745.5 L1718.1 744.4 L1723.1 746.8 L1727.6 751.4 L1731.3 756.5 L1734.3 761.7 L1736.7 767.2 L1738.7 772.9 L1740.2 778.7 L1741.5 784.6 L1742.5 790.6 L1743.5 796.5 L1744.4 802.5 L1745.3 808.5 L1746.2 814.5 L1747.0 820.5 L1747.9 826.5 L1748.7 832.5 L1749.5 838.5 L1750.2 844.5 L1751.0 850.5 L1751.7 856.5 L1752.4 862.5 L1753.1 868.5 L1753.8 874.5 L1754.5 880.5 L1755.1 886.5 L1755.8 892.5 L1756.4 898.5 L1757.0 904.5 L1757.6 910.5 L1758.1 916.5 L1758.7 922.5 L1759.2 928.5 L1759.8 934.5 L1760.3 940.5 L1760.8 946.5 L1761.3 952.5 L1761.8 958.5 L1762.2 964.5 L1762.7 970.6 L1763.2 976.6 L1763.6 982.6 L1764.0 988.6 L1764.5 994.6 L1764.9 1000.6 L1765.3 1006.6 L1765.7 1012.6 L1766.1 1018.7 L1766.5 1024.7 L1766.9 1030.7 L1767.3 1036.7 L1767.7 1042.7 L1768.0 1048.8 L1768.4 1054.8 L1768.8 1060.8 L1769.1 1066.8 L1769.5 1072.8 L1769.8 1078.9 L1770.2 1084.9 L1770.5 1090.9 L1770.9 1096.9 L1771.2 1103.0 L1771.5 1109.0 L1771.9 1115.0 L1772.2 1121.1 L1772.5 1127.1 L1772.8 1133.1 L1773.1 1139.1 L1773.4 1145.2 L1773.8 1151.2 L1774.1 1157.2 L1774.4 1163.3 L1774.7 1169.3 L1775.0 1175.3 L1775.3 1181.3 L1775.6 1187.4 L1775.9 1193.4 L1776.2 1199.4 L1776.5 1205.5 L1776.8 1211.5 L1777.1 1217.5 L1777.4 1223.5 L1777.7 1229.6 L1778.0 1235.6 L1778.2 1241.6 L1778.5 1247.6 L1778.8 1253.7 L1779.1 1259.7 L1779.4 1265.7 L1779.7 1271.7 L1780.0 1277.8 L1780.3 1283.8 L1780.6 1289.8 L1780.9 1295.8 L1781.3 1301.9 L1781.6 1307.9 L1781.9 1313.9 L1782.2 1319.9 L1782.5 1325.9 L1782.8 1332.0 L1783.2 1338.0" stroke-width="10.5" clip-path="url(#lc)"/>
<path d="M310.9 1147.6 L316.9 1147.8 L323.0 1147.9 L329.0 1148.1 L335.0 1148.2 L341.1 1148.4 L347.1 1148.5 L353.1 1148.7 L359.2 1148.8 L365.2 1149.0 L371.2 1149.1 L377.2 1149.2 L383.3 1149.4 L389.3 1149.5 L395.3 1149.6 L401.3 1149.7 L407.4 1149.9 L413.4 1150.0 L419.4 1150.1 L425.4 1150.2 L431.5 1150.3 L437.5 1150.4 L443.5 1150.5 L449.5 1150.6 L455.5 1150.7 L461.5 1150.8 L467.6 1150.9 L473.6 1151.0 L479.6 1151.1 L485.6 1151.2 L491.6 1151.3 L497.6 1151.4 L503.6 1151.5 L509.7 1151.6 L515.7 1151.6 L521.7 1151.7 L527.7 1151.8 L533.7 1151.8 L539.7 1151.9 L545.7 1152.0 L551.7 1152.0 L557.7 1152.1 L563.7 1152.2 L569.7 1152.2 L575.8 1152.3 L581.8 1152.3 L587.8 1152.3 L593.8 1152.4 L599.8 1152.4 L605.8 1152.5 L611.8 1152.5 L617.8 1152.5 L623.8 1152.6 L629.8 1152.6 L635.8 1152.6 L641.8 1152.6 L647.8 1152.7 L653.8 1152.7 L659.8 1152.7 L665.8 1152.7 L671.9 1152.7 L677.9 1152.7 L683.9 1152.7 L689.9 1152.7 L695.9 1152.7 L701.9 1152.7 L707.9 1152.7 L713.9 1152.7 L719.9 1152.7 L725.9 1152.7 L731.9 1152.7 L737.9 1152.6 L744.0 1152.6 L750.0 1152.6 L756.0 1152.6 L762.0 1152.5 L768.0 1152.5 L774.0 1152.5 L780.0 1152.4 L786.0 1152.4 L792.1 1152.3 L798.1 1152.3 L804.1 1152.2 L810.1 1152.2 L816.1 1152.1 L822.1 1152.1 L828.2 1152.0 L834.2 1151.9 L840.2 1151.9 L846.2 1151.8 L852.3 1151.7 L858.3 1151.7 L864.3 1151.6 L870.3 1151.5 L876.3 1151.4 L882.4 1151.3 L888.4 1151.2 L894.4 1151.1 L900.5 1151.1 L906.5 1151.0 L912.5 1150.9 L918.6 1150.8 L924.6 1150.6 L930.6 1150.5 L936.7 1150.4 L942.7 1150.3 L948.7 1150.2 L954.8 1150.0 L960.8 1149.9 L966.8 1149.8 L972.9 1149.6 L978.9 1149.5 L985.0 1149.3 L991.0 1149.2 L997.0 1149.0 L1003.1 1148.8 L1009.1 1148.6 L1015.1 1148.4 L1021.2 1148.2 L1027.2 1148.0 L1033.2 1147.8 L1039.3 1147.6 L1045.3 1147.4 L1051.3 1147.1 L1057.4 1146.9 L1063.4 1146.6 L1069.4 1146.4 L1075.5 1146.1 L1081.5 1145.8 L1087.5 1145.5 L1093.5 1145.2 L1099.5 1144.9 L1105.6 1144.5 L1111.6 1144.2 L1117.6 1143.8 L1123.6 1143.5 L1129.6 1143.1 L1135.6 1142.7 L1141.6 1142.3 L1147.6 1141.9 L1153.6 1141.4 L1159.6 1141.0 L1165.6 1140.5 L1171.6 1140.1 L1177.6 1139.6 L1183.6 1139.1 L1189.6 1138.6 L1195.6 1138.1 L1201.5 1137.5 L1207.5 1136.9 L1213.5 1136.4 L1219.5 1135.8 L1225.4 1135.2 L1231.4 1134.6 L1237.3 1133.9 L1243.3 1133.3 L1249.2 1132.6 L1255.2 1131.9 L1261.1 1131.2 L1267.1 1130.5 L1273.0 1129.7 L1278.9 1128.9 L1284.9 1128.2 L1290.8 1127.4 L1296.7 1126.6 L1302.6 1125.7 L1308.5 1124.9 L1314.4 1124.0 L1320.4 1123.1 L1326.3 1122.2 L1332.2 1121.3 L1338.1 1120.3 L1344.0 1119.3 L1349.9 1118.3 L1355.8 1117.3 L1361.6 1116.3 L1367.5 1115.3 L1373.4 1114.2 L1379.3 1113.1 L1385.2 1112.0 L1391.1 1110.9 L1397.0 1109.7 L1402.8 1108.5 L1408.7 1107.3 L1414.6 1106.1 L1420.5 1104.9 L1426.4 1103.6 L1432.2 1102.3 L1438.1 1101.0 L1444.0 1099.7 L1449.9 1098.4 L1455.7 1097.0 L1461.6 1095.6 L1467.5 1094.2 L1473.4 1092.8 L1479.2 1091.3 L1485.1 1089.8 L1491.0 1088.3 L1496.9 1086.8 L1502.7 1085.3 L1508.6 1083.7 L1514.5 1082.1 L1520.4 1080.5 L1526.2 1078.8 L1532.1 1077.1 L1538.0 1075.4 L1543.9 1073.7 L1549.7 1071.9 L1555.6 1070.1 L1561.4 1068.3 L1567.2 1066.4 L1573.0 1064.4 L1578.7 1062.4 L1584.5 1060.4 L1590.2 1058.3 L1595.8 1056.1 L1601.5 1053.9 L1607.1 1051.6 L1612.6 1049.3 L1618.1 1046.8 L1623.6 1044.3 L1629.0 1041.8 L1634.4 1039.1 L1639.7 1036.4 L1645.0 1033.5 L1650.2 1030.6 L1655.3 1027.6 L1660.3 1024.5 L1665.3 1021.3 L1670.3 1018.0 L1675.1 1014.6 L1679.9 1011.1 L1684.6 1007.5 L1689.3 1003.8 L1693.8 1000.0 L1698.4 996.2 L1702.8 992.3 L1707.3 988.3 L1711.6 984.2 L1716.0 980.1 L1720.3 975.9 L1724.5 971.6 L1728.7 967.4 L1732.9 963.0 L1737.1 958.7 L1741.2 954.2 L1745.4 949.8 L1749.5 945.3 L1753.5 940.9 L1757.6 936.3 L1761.7 931.8 L1765.7 927.3 L1769.8 922.8 L1773.9 918.2 L1777.9 913.7 L1782.0 909.2 L1786.1 904.7 L1790.2 900.2 L1794.4 895.8 L1798.5 891.3 L1802.7 886.9 L1806.9 882.6 L1811.1 878.3 L1815.6 874.5 L1820.4 871.5 L1825.7 869.9 L1831.5 870.0 L1837.4 871.7 L1842.6 874.9 L1846.7 879.4 L1849.8 884.8 L1852.2 890.6 L1854.2 896.4 L1855.7 902.2 L1857.0 908.0 L1858.3 913.9 L1859.6 919.7 L1861.1 925.5 L1862.5 931.4 L1864.0 937.2 L1865.4 943.1 L1866.8 948.9 L1868.2 954.8 L1869.4 960.7 L1870.5 966.6 L1871.6 972.5 L1872.5 978.4 L1873.4 984.4 L1874.3 990.3 L1875.1 996.3 L1875.8 1002.3 L1876.5 1008.3 L1877.2 1014.2 L1877.8 1020.2 L1878.5 1026.2 L1879.1 1032.2 L1879.7 1038.2 L1880.3 1044.2 L1880.9 1050.2 L1881.5 1056.2 L1882.0 1062.2 L1882.6 1068.1 L1883.2 1074.1 L1883.7 1080.1 L1884.3 1086.1 L1884.8 1092.1 L1885.4 1098.1 L1885.9 1104.1 L1886.5 1110.1 L1887.0 1116.1 L1887.5 1122.1 L1888.0 1128.1 L1888.6 1134.1 L1889.1 1140.1 L1889.6 1146.1 L1890.1 1152.1 L1890.6 1158.1 L1891.1 1164.1 L1891.6 1170.0 L1892.1 1176.0 L1892.6 1182.0 L1893.0 1188.0 L1893.5 1194.0 L1894.0 1200.0 L1894.5 1206.0 L1895.0 1212.0 L1895.4 1218.0 L1895.9 1224.0 L1896.4 1230.0 L1896.9 1236.0 L1897.3 1242.0 L1897.8 1248.0 L1898.3 1254.0 L1898.8 1260.0 L1899.2 1266.0 L1899.7 1272.0 L1900.2 1278.0 L1900.6 1284.0 L1901.1 1290.0 L1901.6 1296.0 L1902.1 1302.0 L1902.5 1308.0 L1903.0 1314.0 L1903.5 1320.0 L1904.0 1326.0 L1904.5 1332.0 L1905.0 1338.0" stroke-width="8.8"/>
<path d="M310.9 1147.6 L316.9 1147.8 L323.0 1147.9 L329.0 1148.1 L335.0 1148.2 L341.1 1148.4 L347.1 1148.5 L353.1 1148.7 L359.2 1148.8 L365.2 1149.0 L371.2 1149.1 L377.2 1149.2 L383.3 1149.4 L389.3 1149.5 L395.3 1149.6 L401.3 1149.7 L407.4 1149.9 L413.4 1150.0 L419.4 1150.1 L425.4 1150.2 L431.5 1150.3 L437.5 1150.4 L443.5 1150.5 L449.5 1150.6 L455.5 1150.7 L461.5 1150.8 L467.6 1150.9 L473.6 1151.0 L479.6 1151.1 L485.6 1151.2 L491.6 1151.3 L497.6 1151.4 L503.6 1151.5 L509.7 1151.6 L515.7 1151.6 L521.7 1151.7 L527.7 1151.8 L533.7 1151.8 L539.7 1151.9 L545.7 1152.0 L551.7 1152.0 L557.7 1152.1 L563.7 1152.2 L569.7 1152.2 L575.8 1152.3 L581.8 1152.3 L587.8 1152.3 L593.8 1152.4 L599.8 1152.4 L605.8 1152.5 L611.8 1152.5 L617.8 1152.5 L623.8 1152.6 L629.8 1152.6 L635.8 1152.6 L641.8 1152.6 L647.8 1152.7 L653.8 1152.7 L659.8 1152.7 L665.8 1152.7 L671.9 1152.7 L677.9 1152.7 L683.9 1152.7 L689.9 1152.7 L695.9 1152.7 L701.9 1152.7 L707.9 1152.7 L713.9 1152.7 L719.9 1152.7 L725.9 1152.7 L731.9 1152.7 L737.9 1152.6 L744.0 1152.6 L750.0 1152.6 L756.0 1152.6 L762.0 1152.5 L768.0 1152.5 L774.0 1152.5 L780.0 1152.4 L786.0 1152.4 L792.1 1152.3 L798.1 1152.3 L804.1 1152.2 L810.1 1152.2 L816.1 1152.1 L822.1 1152.1 L828.2 1152.0 L834.2 1151.9 L840.2 1151.9 L846.2 1151.8 L852.3 1151.7 L858.3 1151.7 L864.3 1151.6 L870.3 1151.5 L876.3 1151.4 L882.4 1151.3 L888.4 1151.2 L894.4 1151.1 L900.5 1151.1 L906.5 1151.0 L912.5 1150.9 L918.6 1150.8 L924.6 1150.6 L930.6 1150.5 L936.7 1150.4 L942.7 1150.3 L948.7 1150.2 L954.8 1150.0 L960.8 1149.9 L966.8 1149.8 L972.9 1149.6 L978.9 1149.5 L985.0 1149.3 L991.0 1149.2 L997.0 1149.0 L1003.1 1148.8 L1009.1 1148.6 L1015.1 1148.4 L1021.2 1148.2 L1027.2 1148.0 L1033.2 1147.8 L1039.3 1147.6 L1045.3 1147.4 L1051.3 1147.1 L1057.4 1146.9 L1063.4 1146.6 L1069.4 1146.4 L1075.5 1146.1 L1081.5 1145.8 L1087.5 1145.5 L1093.5 1145.2 L1099.5 1144.9 L1105.6 1144.5 L1111.6 1144.2 L1117.6 1143.8 L1123.6 1143.5 L1129.6 1143.1 L1135.6 1142.7 L1141.6 1142.3 L1147.6 1141.9 L1153.6 1141.4 L1159.6 1141.0 L1165.6 1140.5 L1171.6 1140.1 L1177.6 1139.6 L1183.6 1139.1 L1189.6 1138.6 L1195.6 1138.1 L1201.5 1137.5 L1207.5 1136.9 L1213.5 1136.4 L1219.5 1135.8 L1225.4 1135.2 L1231.4 1134.6 L1237.3 1133.9 L1243.3 1133.3 L1249.2 1132.6 L1255.2 1131.9 L1261.1 1131.2 L1267.1 1130.5 L1273.0 1129.7 L1278.9 1128.9 L1284.9 1128.2 L1290.8 1127.4 L1296.7 1126.6 L1302.6 1125.7 L1308.5 1124.9 L1314.4 1124.0 L1320.4 1123.1 L1326.3 1122.2 L1332.2 1121.3 L1338.1 1120.3 L1344.0 1119.3 L1349.9 1118.3 L1355.8 1117.3 L1361.6 1116.3 L1367.5 1115.3 L1373.4 1114.2 L1379.3 1113.1 L1385.2 1112.0 L1391.1 1110.9 L1397.0 1109.7 L1402.8 1108.5 L1408.7 1107.3 L1414.6 1106.1 L1420.5 1104.9 L1426.4 1103.6 L1432.2 1102.3 L1438.1 1101.0 L1444.0 1099.7 L1449.9 1098.4 L1455.7 1097.0 L1461.6 1095.6 L1467.5 1094.2 L1473.4 1092.8 L1479.2 1091.3 L1485.1 1089.8 L1491.0 1088.3 L1496.9 1086.8 L1502.7 1085.3 L1508.6 1083.7 L1514.5 1082.1 L1520.4 1080.5 L1526.2 1078.8 L1532.1 1077.1 L1538.0 1075.4 L1543.9 1073.7 L1549.7 1071.9 L1555.6 1070.1 L1561.4 1068.3 L1567.2 1066.4 L1573.0 1064.4 L1578.7 1062.4 L1584.5 1060.4 L1590.2 1058.3 L1595.8 1056.1 L1601.5 1053.9 L1607.1 1051.6 L1612.6 1049.3 L1618.1 1046.8 L1623.6 1044.3 L1629.0 1041.8 L1634.4 1039.1 L1639.7 1036.4 L1645.0 1033.5 L1650.2 1030.6 L1655.3 1027.6 L1660.3 1024.5 L1665.3 1021.3 L1670.3 1018.0 L1675.1 1014.6 L1679.9 1011.1 L1684.6 1007.5 L1689.3 1003.8 L1693.8 1000.0 L1698.4 996.2 L1702.8 992.3 L1707.3 988.3 L1711.6 984.2 L1716.0 980.1 L1720.3 975.9 L1724.5 971.6 L1728.7 967.4 L1732.9 963.0 L1737.1 958.7 L1741.2 954.2 L1745.4 949.8 L1749.5 945.3 L1753.5 940.9 L1757.6 936.3 L1761.7 931.8 L1765.7 927.3 L1769.8 922.8 L1773.9 918.2 L1777.9 913.7 L1782.0 909.2 L1786.1 904.7 L1790.2 900.2 L1794.4 895.8 L1798.5 891.3 L1802.7 886.9 L1806.9 882.6 L1811.1 878.3 L1815.6 874.5 L1820.4 871.5 L1825.7 869.9 L1831.5 870.0 L1837.4 871.7 L1842.6 874.9 L1846.7 879.4 L1849.8 884.8 L1852.2 890.6 L1854.2 896.4 L1855.7 902.2 L1857.0 908.0 L1858.3 913.9 L1859.6 919.7 L1861.1 925.5 L1862.5 931.4 L1864.0 937.2 L1865.4 943.1 L1866.8 948.9 L1868.2 954.8 L1869.4 960.7 L1870.5 966.6 L1871.6 972.5 L1872.5 978.4 L1873.4 984.4 L1874.3 990.3 L1875.1 996.3 L1875.8 1002.3 L1876.5 1008.3 L1877.2 1014.2 L1877.8 1020.2 L1878.5 1026.2 L1879.1 1032.2 L1879.7 1038.2 L1880.3 1044.2 L1880.9 1050.2 L1881.5 1056.2 L1882.0 1062.2 L1882.6 1068.1 L1883.2 1074.1 L1883.7 1080.1 L1884.3 1086.1 L1884.8 1092.1 L1885.4 1098.1 L1885.9 1104.1 L1886.5 1110.1 L1887.0 1116.1 L1887.5 1122.1 L1888.0 1128.1 L1888.6 1134.1 L1889.1 1140.1 L1889.6 1146.1 L1890.1 1152.1 L1890.6 1158.1 L1891.1 1164.1 L1891.6 1170.0 L1892.1 1176.0 L1892.6 1182.0 L1893.0 1188.0 L1893.5 1194.0 L1894.0 1200.0 L1894.5 1206.0 L1895.0 1212.0 L1895.4 1218.0 L1895.9 1224.0 L1896.4 1230.0 L1896.9 1236.0 L1897.3 1242.0 L1897.8 1248.0 L1898.3 1254.0 L1898.8 1260.0 L1899.2 1266.0 L1899.7 1272.0 L1900.2 1278.0 L1900.6 1284.0 L1901.1 1290.0 L1901.6 1296.0 L1902.1 1302.0 L1902.5 1308.0 L1903.0 1314.0 L1903.5 1320.0 L1904.0 1326.0 L1904.5 1332.0 L1905.0 1338.0" stroke-width="9.4" clip-path="url(#rc)"/>
<path d="M310.9 1147.6 L316.9 1147.8 L323.0 1147.9 L329.0 1148.1 L335.0 1148.2 L341.1 1148.4 L347.1 1148.5 L353.1 1148.7 L359.2 1148.8 L365.2 1149.0 L371.2 1149.1 L377.2 1149.2 L383.3 1149.4 L389.3 1149.5 L395.3 1149.6 L401.3 1149.7 L407.4 1149.9 L413.4 1150.0 L419.4 1150.1 L425.4 1150.2 L431.5 1150.3 L437.5 1150.4 L443.5 1150.5 L449.5 1150.6 L455.5 1150.7 L461.5 1150.8 L467.6 1150.9 L473.6 1151.0 L479.6 1151.1 L485.6 1151.2 L491.6 1151.3 L497.6 1151.4 L503.6 1151.5 L509.7 1151.6 L515.7 1151.6 L521.7 1151.7 L527.7 1151.8 L533.7 1151.8 L539.7 1151.9 L545.7 1152.0 L551.7 1152.0 L557.7 1152.1 L563.7 1152.2 L569.7 1152.2 L575.8 1152.3 L581.8 1152.3 L587.8 1152.3 L593.8 1152.4 L599.8 1152.4 L605.8 1152.5 L611.8 1152.5 L617.8 1152.5 L623.8 1152.6 L629.8 1152.6 L635.8 1152.6 L641.8 1152.6 L647.8 1152.7 L653.8 1152.7 L659.8 1152.7 L665.8 1152.7 L671.9 1152.7 L677.9 1152.7 L683.9 1152.7 L689.9 1152.7 L695.9 1152.7 L701.9 1152.7 L707.9 1152.7 L713.9 1152.7 L719.9 1152.7 L725.9 1152.7 L731.9 1152.7 L737.9 1152.6 L744.0 1152.6 L750.0 1152.6 L756.0 1152.6 L762.0 1152.5 L768.0 1152.5 L774.0 1152.5 L780.0 1152.4 L786.0 1152.4 L792.1 1152.3 L798.1 1152.3 L804.1 1152.2 L810.1 1152.2 L816.1 1152.1 L822.1 1152.1 L828.2 1152.0 L834.2 1151.9 L840.2 1151.9 L846.2 1151.8 L852.3 1151.7 L858.3 1151.7 L864.3 1151.6 L870.3 1151.5 L876.3 1151.4 L882.4 1151.3 L888.4 1151.2 L894.4 1151.1 L900.5 1151.1 L906.5 1151.0 L912.5 1150.9 L918.6 1150.8 L924.6 1150.6 L930.6 1150.5 L936.7 1150.4 L942.7 1150.3 L948.7 1150.2 L954.8 1150.0 L960.8 1149.9 L966.8 1149.8 L972.9 1149.6 L978.9 1149.5 L985.0 1149.3 L991.0 1149.2 L997.0 1149.0 L1003.1 1148.8 L1009.1 1148.6 L1015.1 1148.4 L1021.2 1148.2 L1027.2 1148.0 L1033.2 1147.8 L1039.3 1147.6 L1045.3 1147.4 L1051.3 1147.1 L1057.4 1146.9 L1063.4 1146.6 L1069.4 1146.4 L1075.5 1146.1 L1081.5 1145.8 L1087.5 1145.5 L1093.5 1145.2 L1099.5 1144.9 L1105.6 1144.5 L1111.6 1144.2 L1117.6 1143.8 L1123.6 1143.5 L1129.6 1143.1 L1135.6 1142.7 L1141.6 1142.3 L1147.6 1141.9 L1153.6 1141.4 L1159.6 1141.0 L1165.6 1140.5 L1171.6 1140.1 L1177.6 1139.6 L1183.6 1139.1 L1189.6 1138.6 L1195.6 1138.1 L1201.5 1137.5 L1207.5 1136.9 L1213.5 1136.4 L1219.5 1135.8 L1225.4 1135.2 L1231.4 1134.6 L1237.3 1133.9 L1243.3 1133.3 L1249.2 1132.6 L1255.2 1131.9 L1261.1 1131.2 L1267.1 1130.5 L1273.0 1129.7 L1278.9 1128.9 L1284.9 1128.2 L1290.8 1127.4 L1296.7 1126.6 L1302.6 1125.7 L1308.5 1124.9 L1314.4 1124.0 L1320.4 1123.1 L1326.3 1122.2 L1332.2 1121.3 L1338.1 1120.3 L1344.0 1119.3 L1349.9 1118.3 L1355.8 1117.3 L1361.6 1116.3 L1367.5 1115.3 L1373.4 1114.2 L1379.3 1113.1 L1385.2 1112.0 L1391.1 1110.9 L1397.0 1109.7 L1402.8 1108.5 L1408.7 1107.3 L1414.6 1106.1 L1420.5 1104.9 L1426.4 1103.6 L1432.2 1102.3 L1438.1 1101.0 L1444.0 1099.7 L1449.9 1098.4 L1455.7 1097.0 L1461.6 1095.6 L1467.5 1094.2 L1473.4 1092.8 L1479.2 1091.3 L1485.1 1089.8 L1491.0 1088.3 L1496.9 1086.8 L1502.7 1085.3 L1508.6 1083.7 L1514.5 1082.1 L1520.4 1080.5 L1526.2 1078.8 L1532.1 1077.1 L1538.0 1075.4 L1543.9 1073.7 L1549.7 1071.9 L1555.6 1070.1 L1561.4 1068.3 L1567.2 1066.4 L1573.0 1064.4 L1578.7 1062.4 L1584.5 1060.4 L1590.2 1058.3 L1595.8 1056.1 L1601.5 1053.9 L1607.1 1051.6 L1612.6 1049.3 L1618.1 1046.8 L1623.6 1044.3 L1629.0 1041.8 L1634.4 1039.1 L1639.7 1036.4 L1645.0 1033.5 L1650.2 1030.6 L1655.3 1027.6 L1660.3 1024.5 L1665.3 1021.3 L1670.3 1018.0 L1675.1 1014.6 L1679.9 1011.1 L1684.6 1007.5 L1689.3 1003.8 L1693.8 1000.0 L1698.4 996.2 L1702.8 992.3 L1707.3 988.3 L1711.6 984.2 L1716.0 980.1 L1720.3 975.9 L1724.5 971.6 L1728.7 967.4 L1732.9 963.0 L1737.1 958.7 L1741.2 954.2 L1745.4 949.8 L1749.5 945.3 L1753.5 940.9 L1757.6 936.3 L1761.7 931.8 L1765.7 927.3 L1769.8 922.8 L1773.9 918.2 L1777.9 913.7 L1782.0 909.2 L1786.1 904.7 L1790.2 900.2 L1794.4 895.8 L1798.5 891.3 L1802.7 886.9 L1806.9 882.6 L1811.1 878.3 L1815.6 874.5 L1820.4 871.5 L1825.7 869.9 L1831.5 870.0 L1837.4 871.7 L1842.6 874.9 L1846.7 879.4 L1849.8 884.8 L1852.2 890.6 L1854.2 896.4 L1855.7 902.2 L1857.0 908.0 L1858.3 913.9 L1859.6 919.7 L1861.1 925.5 L1862.5 931.4 L1864.0 937.2 L1865.4 943.1 L1866.8 948.9 L1868.2 954.8 L1869.4 960.7 L1870.5 966.6 L1871.6 972.5 L1872.5 978.4 L1873.4 984.4 L1874.3 990.3 L1875.1 996.3 L1875.8 1002.3 L1876.5 1008.3 L1877.2 1014.2 L1877.8 1020.2 L1878.5 1026.2 L1879.1 1032.2 L1879.7 1038.2 L1880.3 1044.2 L1880.9 1050.2 L1881.5 1056.2 L1882.0 1062.2 L1882.6 1068.1 L1883.2 1074.1 L1883.7 1080.1 L1884.3 1086.1 L1884.8 1092.1 L1885.4 1098.1 L1885.9 1104.1 L1886.5 1110.1 L1887.0 1116.1 L1887.5 1122.1 L1888.0 1128.1 L1888.6 1134.1 L1889.1 1140.1 L1889.6 1146.1 L1890.1 1152.1 L1890.6 1158.1 L1891.1 1164.1 L1891.6 1170.0 L1892.1 1176.0 L1892.6 1182.0 L1893.0 1188.0 L1893.5 1194.0 L1894.0 1200.0 L1894.5 1206.0 L1895.0 1212.0 L1895.4 1218.0 L1895.9 1224.0 L1896.4 1230.0 L1896.9 1236.0 L1897.3 1242.0 L1897.8 1248.0 L1898.3 1254.0 L1898.8 1260.0 L1899.2 1266.0 L1899.7 1272.0 L1900.2 1278.0 L1900.6 1284.0 L1901.1 1290.0 L1901.6 1296.0 L1902.1 1302.0 L1902.5 1308.0 L1903.0 1314.0 L1903.5 1320.0 L1904.0 1326.0 L1904.5 1332.0 L1905.0 1338.0" stroke-width="10.5" clip-path="url(#lc)"/>
<path d="M311.1 1233.4 L317.1 1233.3 L323.2 1233.3 L329.2 1233.2 L335.2 1233.2 L341.2 1233.1 L347.2 1233.1 L353.3 1233.1 L359.3 1233.0 L365.3 1233.0 L371.3 1233.0 L377.4 1233.0 L383.4 1233.0 L389.4 1232.9 L395.4 1232.9 L401.5 1232.9 L407.5 1232.9 L413.5 1232.9 L419.5 1232.9 L425.6 1232.9 L431.6 1232.9 L437.6 1232.9 L443.6 1232.9 L449.7 1232.9 L455.7 1232.9 L461.7 1233.0 L467.8 1233.0 L473.8 1233.0 L479.8 1233.0 L485.8 1233.0 L491.9 1233.1 L497.9 1233.1 L503.9 1233.1 L509.9 1233.2 L516.0 1233.2 L522.0 1233.2 L528.0 1233.3 L534.1 1233.3 L540.1 1233.3 L546.1 1233.4 L552.1 1233.4 L558.2 1233.5 L564.2 1233.5 L570.2 1233.6 L576.3 1233.6 L582.3 1233.7 L588.3 1233.7 L594.4 1233.8 L600.4 1233.8 L606.4 1233.9 L612.4 1233.9 L618.5 1234.0 L624.5 1234.1 L630.5 1234.1 L636.6 1234.2 L642.6 1234.2 L648.6 1234.3 L654.7 1234.4 L660.7 1234.4 L666.7 1234.5 L672.8 1234.6 L678.8 1234.6 L684.8 1234.7 L690.9 1234.8 L696.9 1234.8 L702.9 1234.9 L708.9 1235.0 L715.0 1235.1 L721.0 1235.1 L727.0 1235.2 L733.1 1235.3 L739.1 1235.3 L745.1 1235.4 L751.2 1235.5 L757.2 1235.6 L763.2 1235.6 L769.3 1235.7 L775.3 1235.8 L781.3 1235.9 L787.4 1235.9 L793.4 1236.0 L799.4 1236.1 L805.5 1236.1 L811.5 1236.2 L817.5 1236.3 L823.6 1236.4 L829.6 1236.4 L835.6 1236.5 L841.7 1236.6 L847.7 1236.7 L853.7 1236.7 L859.8 1236.8 L865.8 1236.9 L871.8 1236.9 L877.9 1237.0 L883.9 1237.1 L889.9 1237.1 L896.0 1237.2 L902.0 1237.3 L908.0 1237.3 L914.1 1237.4 L920.1 1237.4 L926.1 1237.5 L932.2 1237.6 L938.2 1237.6 L944.2 1237.7 L950.3 1237.7 L956.3 1237.8 L962.4 1237.9 L968.4 1237.9 L974.4 1238.0 L980.5 1238.0 L986.5 1238.1 L992.5 1238.1 L998.6 1238.1 L1004.6 1238.2 L1010.6 1238.2 L1016.7 1238.3 L1022.7 1238.3 L1028.7 1238.4 L1034.8 1238.4 L1040.8 1238.4 L1046.8 1238.5 L1052.9 1238.5 L1058.9 1238.5 L1064.9 1238.5 L1071.0 1238.6 L1077.0 1238.6 L1083.0 1238.6 L1089.1 1238.6 L1095.1 1238.6 L1101.1 1238.7 L1107.2 1238.7 L1113.2 1238.7 L1119.2 1238.7 L1125.3 1238.7 L1131.3 1238.7 L1137.3 1238.7 L1143.4 1238.7 L1149.4 1238.7 L1155.4 1238.7 L1161.5 1238.7 L1167.5 1238.6 L1173.5 1238.6 L1179.6 1238.6 L1185.6 1238.6 L1191.6 1238.6 L1197.7 1238.5 L1203.7 1238.5 L1209.7 1238.5 L1215.8 1238.4 L1221.8 1238.4 L1227.8 1238.3 L1233.8 1238.3 L1239.9 1238.2 L1245.9 1238.2 L1251.9 1238.1 L1258.0 1238.1 L1264.0 1238.0 L1270.0 1237.9 L1276.1 1237.9 L1282.1 1237.8 L1288.1 1237.7 L1294.2 1237.6 L1300.2 1237.6 L1306.2 1237.5 L1312.3 1237.4 L1318.3 1237.3 L1324.3 1237.2 L1330.3 1237.1 L1336.4 1237.0 L1342.4 1236.9 L1348.4 1236.8 L1354.5 1236.6 L1360.5 1236.5 L1366.5 1236.4 L1372.5 1236.3 L1378.6 1236.1 L1384.6 1236.0 L1390.6 1235.8 L1396.7 1235.7 L1402.7 1235.5 L1408.7 1235.4 L1414.8 1235.2 L1420.8 1235.0 L1426.8 1234.9 L1432.8 1234.7 L1438.9 1234.5 L1444.9 1234.3 L1450.9 1234.2 L1456.9 1234.0 L1463.0 1233.8 L1469.0 1233.6 L1475.0 1233.3 L1481.0 1233.1 L1487.1 1232.9 L1493.1 1232.7 L1499.1 1232.5 L1505.2 1232.2 L1511.2 1232.0 L1517.2 1231.8 L1523.2 1231.5 L1529.3 1231.2 L1535.3 1231.0 L1541.3 1230.7 L1547.3 1230.5 L1553.3 1230.2 L1559.4 1229.9 L1565.4 1229.6 L1571.4 1229.3 L1577.4 1229.0 L1583.5 1228.7 L1589.5 1228.4 L1595.5 1228.0 L1601.5 1227.7 L1607.5 1227.4 L1613.6 1227.0 L1619.6 1226.7 L1625.6 1226.3 L1631.6 1225.9 L1637.6 1225.6 L1643.6 1225.2 L1649.7 1224.8 L1655.7 1224.4 L1661.7 1224.0 L1667.7 1223.6 L1673.7 1223.1 L1679.7 1222.7 L1685.7 1222.3 L1691.7 1221.8 L1697.8 1221.3 L1703.8 1220.9 L1709.8 1220.4 L1715.8 1219.9 L1721.8 1219.4 L1727.8 1218.9 L1733.8 1218.4 L1739.8 1217.8 L1745.8 1217.3 L1751.8 1216.7 L1757.8 1216.2 L1763.8 1215.6 L1769.8 1215.0 L1775.8 1214.4 L1781.8 1213.8 L1787.8 1213.2 L1793.8 1212.6 L1799.8 1212.0 L1805.8 1211.3 L1811.8 1210.6 L1817.7 1210.0 L1823.7 1209.3 L1829.7 1208.6 L1835.7 1207.9 L1841.7 1207.2 L1847.7 1206.4 L1853.6 1205.7 L1859.6 1204.9 L1865.6 1204.2 L1871.6 1203.4 L1877.6 1202.6 L1883.5 1201.8 L1889.5 1200.9 L1895.5 1200.1 L1901.4 1199.2 L1907.4 1198.4 L1913.4 1197.5 L1919.3 1196.6 L1925.3 1195.7 L1931.3 1194.8 L1937.2 1193.9 L1943.2 1192.9 L1949.1 1191.9 L1955.1 1191.0 L1961.1 1190.0 L1967.0 1189.0 L1973.0 1187.9 L1978.9 1186.9 L1984.8 1185.9 L1990.8 1184.8 L1996.7 1183.7 L2002.7 1182.6 L2008.6 1181.5 L2014.6 1180.4 L2020.5 1179.2 L2026.4 1178.0 L2032.4 1176.9" stroke-width="8.8"/>
<path d="M311.1 1233.4 L317.1 1233.3 L323.2 1233.3 L329.2 1233.2 L335.2 1233.2 L341.2 1233.1 L347.2 1233.1 L353.3 1233.1 L359.3 1233.0 L365.3 1233.0 L371.3 1233.0 L377.4 1233.0 L383.4 1233.0 L389.4 1232.9 L395.4 1232.9 L401.5 1232.9 L407.5 1232.9 L413.5 1232.9 L419.5 1232.9 L425.6 1232.9 L431.6 1232.9 L437.6 1232.9 L443.6 1232.9 L449.7 1232.9 L455.7 1232.9 L461.7 1233.0 L467.8 1233.0 L473.8 1233.0 L479.8 1233.0 L485.8 1233.0 L491.9 1233.1 L497.9 1233.1 L503.9 1233.1 L509.9 1233.2 L516.0 1233.2 L522.0 1233.2 L528.0 1233.3 L534.1 1233.3 L540.1 1233.3 L546.1 1233.4 L552.1 1233.4 L558.2 1233.5 L564.2 1233.5 L570.2 1233.6 L576.3 1233.6 L582.3 1233.7 L588.3 1233.7 L594.4 1233.8 L600.4 1233.8 L606.4 1233.9 L612.4 1233.9 L618.5 1234.0 L624.5 1234.1 L630.5 1234.1 L636.6 1234.2 L642.6 1234.2 L648.6 1234.3 L654.7 1234.4 L660.7 1234.4 L666.7 1234.5 L672.8 1234.6 L678.8 1234.6 L684.8 1234.7 L690.9 1234.8 L696.9 1234.8 L702.9 1234.9 L708.9 1235.0 L715.0 1235.1 L721.0 1235.1 L727.0 1235.2 L733.1 1235.3 L739.1 1235.3 L745.1 1235.4 L751.2 1235.5 L757.2 1235.6 L763.2 1235.6 L769.3 1235.7 L775.3 1235.8 L781.3 1235.9 L787.4 1235.9 L793.4 1236.0 L799.4 1236.1 L805.5 1236.1 L811.5 1236.2 L817.5 1236.3 L823.6 1236.4 L829.6 1236.4 L835.6 1236.5 L841.7 1236.6 L847.7 1236.7 L853.7 1236.7 L859.8 1236.8 L865.8 1236.9 L871.8 1236.9 L877.9 1237.0 L883.9 1237.1 L889.9 1237.1 L896.0 1237.2 L902.0 1237.3 L908.0 1237.3 L914.1 1237.4 L920.1 1237.4 L926.1 1237.5 L932.2 1237.6 L938.2 1237.6 L944.2 1237.7 L950.3 1237.7 L956.3 1237.8 L962.4 1237.9 L968.4 1237.9 L974.4 1238.0 L980.5 1238.0 L986.5 1238.1 L992.5 1238.1 L998.6 1238.1 L1004.6 1238.2 L1010.6 1238.2 L1016.7 1238.3 L1022.7 1238.3 L1028.7 1238.4 L1034.8 1238.4 L1040.8 1238.4 L1046.8 1238.5 L1052.9 1238.5 L1058.9 1238.5 L1064.9 1238.5 L1071.0 1238.6 L1077.0 1238.6 L1083.0 1238.6 L1089.1 1238.6 L1095.1 1238.6 L1101.1 1238.7 L1107.2 1238.7 L1113.2 1238.7 L1119.2 1238.7 L1125.3 1238.7 L1131.3 1238.7 L1137.3 1238.7 L1143.4 1238.7 L1149.4 1238.7 L1155.4 1238.7 L1161.5 1238.7 L1167.5 1238.6 L1173.5 1238.6 L1179.6 1238.6 L1185.6 1238.6 L1191.6 1238.6 L1197.7 1238.5 L1203.7 1238.5 L1209.7 1238.5 L1215.8 1238.4 L1221.8 1238.4 L1227.8 1238.3 L1233.8 1238.3 L1239.9 1238.2 L1245.9 1238.2 L1251.9 1238.1 L1258.0 1238.1 L1264.0 1238.0 L1270.0 1237.9 L1276.1 1237.9 L1282.1 1237.8 L1288.1 1237.7 L1294.2 1237.6 L1300.2 1237.6 L1306.2 1237.5 L1312.3 1237.4 L1318.3 1237.3 L1324.3 1237.2 L1330.3 1237.1 L1336.4 1237.0 L1342.4 1236.9 L1348.4 1236.8 L1354.5 1236.6 L1360.5 1236.5 L1366.5 1236.4 L1372.5 1236.3 L1378.6 1236.1 L1384.6 1236.0 L1390.6 1235.8 L1396.7 1235.7 L1402.7 1235.5 L1408.7 1235.4 L1414.8 1235.2 L1420.8 1235.0 L1426.8 1234.9 L1432.8 1234.7 L1438.9 1234.5 L1444.9 1234.3 L1450.9 1234.2 L1456.9 1234.0 L1463.0 1233.8 L1469.0 1233.6 L1475.0 1233.3 L1481.0 1233.1 L1487.1 1232.9 L1493.1 1232.7 L1499.1 1232.5 L1505.2 1232.2 L1511.2 1232.0 L1517.2 1231.8 L1523.2 1231.5 L1529.3 1231.2 L1535.3 1231.0 L1541.3 1230.7 L1547.3 1230.5 L1553.3 1230.2 L1559.4 1229.9 L1565.4 1229.6 L1571.4 1229.3 L1577.4 1229.0 L1583.5 1228.7 L1589.5 1228.4 L1595.5 1228.0 L1601.5 1227.7 L1607.5 1227.4 L1613.6 1227.0 L1619.6 1226.7 L1625.6 1226.3 L1631.6 1225.9 L1637.6 1225.6 L1643.6 1225.2 L1649.7 1224.8 L1655.7 1224.4 L1661.7 1224.0 L1667.7 1223.6 L1673.7 1223.1 L1679.7 1222.7 L1685.7 1222.3 L1691.7 1221.8 L1697.8 1221.3 L1703.8 1220.9 L1709.8 1220.4 L1715.8 1219.9 L1721.8 1219.4 L1727.8 1218.9 L1733.8 1218.4 L1739.8 1217.8 L1745.8 1217.3 L1751.8 1216.7 L1757.8 1216.2 L1763.8 1215.6 L1769.8 1215.0 L1775.8 1214.4 L1781.8 1213.8 L1787.8 1213.2 L1793.8 1212.6 L1799.8 1212.0 L1805.8 1211.3 L1811.8 1210.6 L1817.7 1210.0 L1823.7 1209.3 L1829.7 1208.6 L1835.7 1207.9 L1841.7 1207.2 L1847.7 1206.4 L1853.6 1205.7 L1859.6 1204.9 L1865.6 1204.2 L1871.6 1203.4 L1877.6 1202.6 L1883.5 1201.8 L1889.5 1200.9 L1895.5 1200.1 L1901.4 1199.2 L1907.4 1198.4 L1913.4 1197.5 L1919.3 1196.6 L1925.3 1195.7 L1931.3 1194.8 L1937.2 1193.9 L1943.2 1192.9 L1949.1 1191.9 L1955.1 1191.0 L1961.1 1190.0 L1967.0 1189.0 L1973.0 1187.9 L1978.9 1186.9 L1984.8 1185.9 L1990.8 1184.8 L1996.7 1183.7 L2002.7 1182.6 L2008.6 1181.5 L2014.6 1180.4 L2020.5 1179.2 L2026.4 1178.0 L2032.4 1176.9" stroke-width="9.4" clip-path="url(#rc)"/>
<path d="M311.1 1233.4 L317.1 1233.3 L323.2 1233.3 L329.2 1233.2 L335.2 1233.2 L341.2 1233.1 L347.2 1233.1 L353.3 1233.1 L359.3 1233.0 L365.3 1233.0 L371.3 1233.0 L377.4 1233.0 L383.4 1233.0 L389.4 1232.9 L395.4 1232.9 L401.5 1232.9 L407.5 1232.9 L413.5 1232.9 L419.5 1232.9 L425.6 1232.9 L431.6 1232.9 L437.6 1232.9 L443.6 1232.9 L449.7 1232.9 L455.7 1232.9 L461.7 1233.0 L467.8 1233.0 L473.8 1233.0 L479.8 1233.0 L485.8 1233.0 L491.9 1233.1 L497.9 1233.1 L503.9 1233.1 L509.9 1233.2 L516.0 1233.2 L522.0 1233.2 L528.0 1233.3 L534.1 1233.3 L540.1 1233.3 L546.1 1233.4 L552.1 1233.4 L558.2 1233.5 L564.2 1233.5 L570.2 1233.6 L576.3 1233.6 L582.3 1233.7 L588.3 1233.7 L594.4 1233.8 L600.4 1233.8 L606.4 1233.9 L612.4 1233.9 L618.5 1234.0 L624.5 1234.1 L630.5 1234.1 L636.6 1234.2 L642.6 1234.2 L648.6 1234.3 L654.7 1234.4 L660.7 1234.4 L666.7 1234.5 L672.8 1234.6 L678.8 1234.6 L684.8 1234.7 L690.9 1234.8 L696.9 1234.8 L702.9 1234.9 L708.9 1235.0 L715.0 1235.1 L721.0 1235.1 L727.0 1235.2 L733.1 1235.3 L739.1 1235.3 L745.1 1235.4 L751.2 1235.5 L757.2 1235.6 L763.2 1235.6 L769.3 1235.7 L775.3 1235.8 L781.3 1235.9 L787.4 1235.9 L793.4 1236.0 L799.4 1236.1 L805.5 1236.1 L811.5 1236.2 L817.5 1236.3 L823.6 1236.4 L829.6 1236.4 L835.6 1236.5 L841.7 1236.6 L847.7 1236.7 L853.7 1236.7 L859.8 1236.8 L865.8 1236.9 L871.8 1236.9 L877.9 1237.0 L883.9 1237.1 L889.9 1237.1 L896.0 1237.2 L902.0 1237.3 L908.0 1237.3 L914.1 1237.4 L920.1 1237.4 L926.1 1237.5 L932.2 1237.6 L938.2 1237.6 L944.2 1237.7 L950.3 1237.7 L956.3 1237.8 L962.4 1237.9 L968.4 1237.9 L974.4 1238.0 L980.5 1238.0 L986.5 1238.1 L992.5 1238.1 L998.6 1238.1 L1004.6 1238.2 L1010.6 1238.2 L1016.7 1238.3 L1022.7 1238.3 L1028.7 1238.4 L1034.8 1238.4 L1040.8 1238.4 L1046.8 1238.5 L1052.9 1238.5 L1058.9 1238.5 L1064.9 1238.5 L1071.0 1238.6 L1077.0 1238.6 L1083.0 1238.6 L1089.1 1238.6 L1095.1 1238.6 L1101.1 1238.7 L1107.2 1238.7 L1113.2 1238.7 L1119.2 1238.7 L1125.3 1238.7 L1131.3 1238.7 L1137.3 1238.7 L1143.4 1238.7 L1149.4 1238.7 L1155.4 1238.7 L1161.5 1238.7 L1167.5 1238.6 L1173.5 1238.6 L1179.6 1238.6 L1185.6 1238.6 L1191.6 1238.6 L1197.7 1238.5 L1203.7 1238.5 L1209.7 1238.5 L1215.8 1238.4 L1221.8 1238.4 L1227.8 1238.3 L1233.8 1238.3 L1239.9 1238.2 L1245.9 1238.2 L1251.9 1238.1 L1258.0 1238.1 L1264.0 1238.0 L1270.0 1237.9 L1276.1 1237.9 L1282.1 1237.8 L1288.1 1237.7 L1294.2 1237.6 L1300.2 1237.6 L1306.2 1237.5 L1312.3 1237.4 L1318.3 1237.3 L1324.3 1237.2 L1330.3 1237.1 L1336.4 1237.0 L1342.4 1236.9 L1348.4 1236.8 L1354.5 1236.6 L1360.5 1236.5 L1366.5 1236.4 L1372.5 1236.3 L1378.6 1236.1 L1384.6 1236.0 L1390.6 1235.8 L1396.7 1235.7 L1402.7 1235.5 L1408.7 1235.4 L1414.8 1235.2 L1420.8 1235.0 L1426.8 1234.9 L1432.8 1234.7 L1438.9 1234.5 L1444.9 1234.3 L1450.9 1234.2 L1456.9 1234.0 L1463.0 1233.8 L1469.0 1233.6 L1475.0 1233.3 L1481.0 1233.1 L1487.1 1232.9 L1493.1 1232.7 L1499.1 1232.5 L1505.2 1232.2 L1511.2 1232.0 L1517.2 1231.8 L1523.2 1231.5 L1529.3 1231.2 L1535.3 1231.0 L1541.3 1230.7 L1547.3 1230.5 L1553.3 1230.2 L1559.4 1229.9 L1565.4 1229.6 L1571.4 1229.3 L1577.4 1229.0 L1583.5 1228.7 L1589.5 1228.4 L1595.5 1228.0 L1601.5 1227.7 L1607.5 1227.4 L1613.6 1227.0 L1619.6 1226.7 L1625.6 1226.3 L1631.6 1225.9 L1637.6 1225.6 L1643.6 1225.2 L1649.7 1224.8 L1655.7 1224.4 L1661.7 1224.0 L1667.7 1223.6 L1673.7 1223.1 L1679.7 1222.7 L1685.7 1222.3 L1691.7 1221.8 L1697.8 1221.3 L1703.8 1220.9 L1709.8 1220.4 L1715.8 1219.9 L1721.8 1219.4 L1727.8 1218.9 L1733.8 1218.4 L1739.8 1217.8 L1745.8 1217.3 L1751.8 1216.7 L1757.8 1216.2 L1763.8 1215.6 L1769.8 1215.0 L1775.8 1214.4 L1781.8 1213.8 L1787.8 1213.2 L1793.8 1212.6 L1799.8 1212.0 L1805.8 1211.3 L1811.8 1210.6 L1817.7 1210.0 L1823.7 1209.3 L1829.7 1208.6 L1835.7 1207.9 L1841.7 1207.2 L1847.7 1206.4 L1853.6 1205.7 L1859.6 1204.9 L1865.6 1204.2 L1871.6 1203.4 L1877.6 1202.6 L1883.5 1201.8 L1889.5 1200.9 L1895.5 1200.1 L1901.4 1199.2 L1907.4 1198.4 L1913.4 1197.5 L1919.3 1196.6 L1925.3 1195.7 L1931.3 1194.8 L1937.2 1193.9 L1943.2 1192.9 L1949.1 1191.9 L1955.1 1191.0 L1961.1 1190.0 L1967.0 1189.0 L1973.0 1187.9 L1978.9 1186.9 L1984.8 1185.9 L1990.8 1184.8 L1996.7 1183.7 L2002.7 1182.6 L2008.6 1181.5 L2014.6 1180.4 L2020.5 1179.2 L2026.4 1178.0 L2032.4 1176.9" stroke-width="10.5" clip-path="url(#lc)"/>
</g>
<ellipse cx="629" cy="1160.5" rx="65.5" ry="134" fill="none" stroke="#000" stroke-width="2.2"/>
<line x1="486" y1="1027.5" x2="637" y2="1027.5" stroke="#000" stroke-width="4.8"/>
<polygon points="441.4,1027.6 488.6,1017.8 488.6,1041.2" fill="#000"/>
<g stroke="#000" fill="none">
<line x1="534.1" y1="112" x2="534.1" y2="780" stroke="#1a1a1a" stroke-width="2.8"/>
<line x1="523" y1="767.3" x2="1230.5" y2="767.3" stroke="#6e6e6e" stroke-width="3.4"/>
<line x1="528.0" y1="669.9" x2="534" y2="669.9" stroke-width="2"/>
<line x1="523.0" y1="571.2" x2="534" y2="571.2" stroke-width="2"/>
<line x1="528.0" y1="472.6" x2="534" y2="472.6" stroke-width="2"/>
<line x1="523.0" y1="374.0" x2="534" y2="374.0" stroke-width="2"/>
<line x1="528.0" y1="275.4" x2="534" y2="275.4" stroke-width="2"/>
<line x1="523.0" y1="176.8" x2="534" y2="176.8" stroke-width="2"/>
<line x1="621.1" y1="768" x2="621.1" y2="776.0" stroke="#555" stroke-width="2.2"/>
<line x1="708.0" y1="768" x2="708.0" y2="782.0" stroke="#555" stroke-width="2.2"/>
<line x1="794.8" y1="768" x2="794.8" y2="776.0" stroke="#555" stroke-width="2.2"/>
<line x1="881.7" y1="768" x2="881.7" y2="782.0" stroke="#555" stroke-width="2.2"/>
<line x1="968.5" y1="768" x2="968.5" y2="776.0" stroke="#555" stroke-width="2.2"/>
<line x1="1055.3" y1="768" x2="1055.3" y2="782.0" stroke="#555" stroke-width="2.2"/>
<line x1="1142.2" y1="768" x2="1142.2" y2="776.0" stroke="#555" stroke-width="2.2"/>
<line x1="1229.0" y1="768" x2="1229.0" y2="782.0" stroke="#555" stroke-width="2.2"/>
</g>
<text transform="translate(445.51,783.30) scale(0.9396,1)" font-size="64.36" style="letter-spacing:-4px;">0.0</text>
<text transform="translate(446.37,587.70) scale(0.9283,1)" font-size="64.36" style="letter-spacing:-4px;">1.5</text>
<text transform="translate(446.97,391.10) scale(0.9210,1)" font-size="64.36" style="letter-spacing:-4px;">3.0</text>
<text transform="translate(446.50,195.80) scale(0.9266,1)" font-size="64.36" style="letter-spacing:-4px;">4.5</text>
<text transform="translate(517.77,838.00) scale(0.9500,1)" font-size="63.84">0</text>
<text transform="translate(691.34,838.00) scale(0.9500,1)" font-size="63.84">2</text>
<text transform="translate(866.44,838.00) scale(0.9500,1)" font-size="63.84">4</text>
<text transform="translate(1040.04,838.00) scale(0.9500,1)" font-size="63.84">6</text>
<text transform="translate(1213.59,838.00) scale(0.9500,1)" font-size="63.84">8</text>
<text transform="translate(781.63,913.40) scale(0.9590,1)" font-size="76.19">Freq. (GHz)</text>
<text transform="translate(673.56,172.50) scale(0.9676,1)" font-size="75.77">[ Q-factor ]</text>
<text transform="translate(938.55,366.25) scale(0.8924,1)" font-size="68.19" style="word-spacing:-3px;" stroke="#fff" stroke-width="0.56">rad. 75um</text>
<text transform="translate(816.70,531.25) scale(0.9513,1)" font-size="68.19" stroke="#fff" stroke-width="0.53">rad. 100um</text>
<text transform="translate(696.67,700.25) scale(0.9569,1)" font-size="68.19" stroke="#fff" stroke-width="0.52">rad. 125um</text>
<g fill="none" stroke="#000" stroke-linejoin="round" stroke-linecap="round">
<path d="M541.3 737.0 L542.2 733.0 L543.2 729.1 L544.2 725.1 L545.2 721.2 L546.3 717.3 L547.4 713.4 L548.5 709.6 L549.7 705.7 L550.9 701.9 L552.2 698.1 L553.5 694.2 L554.8 690.4 L556.1 686.7 L557.5 682.9 L558.9 679.1 L560.3 675.4 L561.8 671.6 L563.2 667.9 L564.7 664.2 L566.3 660.4 L567.8 656.7 L569.3 653.0 L570.9 649.3 L572.5 645.6 L574.1 641.9 L575.7 638.3 L577.3 634.6 L579.0 630.9 L580.6 627.2 L582.3 623.6 L583.9 619.9 L585.6 616.2 L587.2 612.6 L588.9 608.9 L590.5 605.3 L592.2 601.6 L593.8 597.9 L595.5 594.3 L597.1 590.6 L598.8 586.9 L600.4 583.2 L602.0 579.6 L603.6 575.9 L605.2 572.2 L606.8 568.5 L608.4 564.8 L610.0 561.1 L611.6 557.4 L613.2 553.7 L614.7 550.0 L616.3 546.3 L617.9 542.6 L619.4 538.9 L621.0 535.2 L622.6 531.5 L624.2 527.8 L625.8 524.1 L627.4 520.4 L629.0 516.7 L630.6 513.0 L632.3 509.3 L633.9 505.7 L635.6 502.0 L637.2 498.4 L638.9 494.7 L640.6 491.1 L642.4 487.4 L644.1 483.8 L645.9 480.2 L647.7 476.6 L649.5 473.0 L651.3 469.4 L653.2 465.8 L655.1 462.2 L657.0 458.7 L658.9 455.1 L660.9 451.6 L662.8 448.0 L664.8 444.5 L666.8 441.0 L668.8 437.5 L670.8 434.0 L672.8 430.5 L674.8 427.1 L676.8 423.6 L678.9 420.2 L680.9 416.7 L683.0 413.3 L685.0 409.8 L687.1 406.4 L689.1 403.0 L691.2 399.6 L693.3 396.2 L695.4 392.8 L697.5 389.4 L699.6 386.0 L701.7 382.7 L703.8 379.3 L706.0 375.9 L708.1 372.6 L710.3 369.2 L712.5 365.9 L714.7 362.5 L716.8 359.2 L719.1 355.8 L721.3 352.5 L723.5 349.1 L725.8 345.8 L728.0 342.5 L730.3 339.2 L732.6 335.8 L734.9 332.5 L737.2 329.2 L739.6 325.8 L741.9 322.5 L744.3 319.2 L746.7 315.9 L749.1 312.6 L751.6 309.3 L754.0 306.1 L756.5 302.8 L759.0 299.6 L761.6 296.4 L764.1 293.2 L766.7 290.1 L769.4 287.0 L772.0 283.9 L774.7 280.8 L777.4 277.8 L780.2 274.9 L783.0 272.0 L785.8 269.1 L788.7 266.3 L791.6 263.5 L794.6 260.8 L797.6 258.1 L800.6 255.5 L803.7 253.0 L806.9 250.5 L810.0 248.1 L813.3 245.8 L816.6 243.5 L819.9 241.4 L823.3 239.2 L826.7 237.2 L830.2 235.3 L833.8 233.4 L837.4 231.6 L841.0 230.0 L844.7 228.4 L848.5 226.9 L852.3 225.5 L856.1 224.2 L859.9 223.1 L863.8 222.0 L867.7 221.1 L871.6 220.4 L875.6 219.7 L879.5 219.2 L883.5 218.8 L887.4 218.6 L891.4 218.5 L895.4 218.6 L899.3 218.8 L903.3 219.2 L907.2 219.7 L911.1 220.3 L915.0 221.1 L918.9 222.0 L922.8 223.0 L926.6 224.2 L930.4 225.4 L934.2 226.8 L937.9 228.2 L941.7 229.8 L945.3 231.4 L949.0 233.2 L952.6 235.0 L956.1 236.9 L959.7 238.9 L963.1 240.9 L966.5 243.0 L969.9 245.2 L973.2 247.4 L976.5 249.7 L979.7 252.1 L982.9 254.5 L986.1 257.0 L989.2 259.5 L992.3 262.1 L995.3 264.7 L998.3 267.4 L1001.2 270.2 L1004.1 273.0 L1007.0 275.8 L1009.9 278.7 L1012.7 281.6 L1015.4 284.5 L1018.2 287.5 L1020.9 290.6 L1023.5 293.6 L1026.2 296.7 L1028.8 299.8 L1031.4 303.0 L1033.9 306.2 L1036.4 309.4 L1038.9 312.6 L1041.4 315.8 L1043.8 319.1 L1046.2 322.4 L1048.6 325.7 L1051.0 329.0 L1053.3 332.4 L1055.6 335.7 L1057.9 339.0 L1060.2 342.4 L1062.5 345.8 L1064.7 349.1 L1066.9 352.5 L1069.1 355.9 L1071.2 359.3 L1073.4 362.7 L1075.5 366.1 L1077.6 369.5 L1079.7 373.0 L1081.8 376.4 L1083.9 379.8 L1085.9 383.3 L1088.0 386.7 L1090.0 390.2 L1092.0 393.7 L1094.0 397.1 L1095.9 400.6 L1097.9 404.1 L1099.8 407.6 L1101.8 411.1 L1103.7 414.6 L1105.6 418.1 L1107.5 421.6 L1109.4 425.2 L1111.3 428.7 L1113.1 432.2 L1115.0 435.7 L1116.8 439.3 L1118.7 442.8 L1120.5 446.4 L1122.3 449.9 L1124.2 453.5 L1126.0 457.1 L1127.8 460.6 L1129.6 464.2 L1131.4 467.8 L1133.2 471.4 L1135.0 475.0 L1136.7 478.6 L1138.5 482.1 L1140.3 485.7 L1142.1 489.3 L1143.8 493.0 L1145.6 496.6 L1147.4 500.2 L1149.1 503.8 L1150.9 507.4 L1152.7 511.0 L1154.4 514.6 L1156.2 518.3 L1158.0 521.9 L1159.7 525.5 L1161.5 529.2 L1163.3 532.8 L1165.0 536.4 L1166.8 540.1 L1168.5 543.7 L1170.3 547.4 L1172.0 551.0 L1173.7 554.7 L1175.5 558.3 L1177.2 562.0 L1178.9 565.7 L1180.6 569.3 L1182.3 573.0 L1184.0 576.7 L1185.7 580.4 L1187.4 584.0 L1189.0 587.7 L1190.7 591.4 L1192.3 595.1 L1193.9 598.8 L1195.6 602.5 L1197.2 606.2 L1198.7 609.9 L1200.3 613.6 L1201.9 617.3 L1203.4 621.1 L1204.9 624.8 L1206.4 628.5 L1207.9 632.2 L1209.4 636.0 L1210.8 639.7 L1212.3 643.5 L1213.7 647.2 L1215.1 651.0 L1216.4 654.7 L1217.8 658.5 L1219.1 662.3 L1220.4 666.0 L1221.7 669.8 L1223.0 673.6 L1224.2 677.4 L1225.4 681.2 L1226.6 685.0 L1227.7 688.8 L1228.9 692.6" stroke-width="4.4"/>
<path d="M540.9 711.0 L541.7 707.1 L542.6 703.2 L543.4 699.2 L544.2 695.3 L544.9 691.4 L545.7 687.4 L546.5 683.4 L547.2 679.5 L548.0 675.5 L548.8 671.5 L549.5 667.6 L550.3 663.6 L551.2 659.6 L552.0 655.7 L552.9 651.7 L553.8 647.8 L554.7 643.8 L555.6 639.9 L556.7 636.0 L557.7 632.1 L558.8 628.2 L560.0 624.4 L561.2 620.6 L562.4 616.8 L563.8 613.0 L565.2 609.2 L566.7 605.5 L568.2 601.8 L569.8 598.2 L571.5 594.5 L573.3 591.0 L575.2 587.4 L577.1 583.8 L579.0 580.3 L580.9 576.8 L582.9 573.3 L584.9 569.7 L586.8 566.2 L588.8 562.7 L590.7 559.1 L592.5 555.5 L594.4 552.0 L596.1 548.4 L597.9 544.7 L599.7 541.1 L601.4 537.5 L603.1 533.8 L604.8 530.2 L606.5 526.5 L608.2 522.9 L609.8 519.2 L611.5 515.6 L613.2 511.9 L614.9 508.3 L616.6 504.6 L618.4 501.0 L620.1 497.4 L621.9 493.8 L623.7 490.2 L625.5 486.6 L627.3 483.0 L629.1 479.4 L631.0 475.9 L632.9 472.3 L634.8 468.8 L636.7 465.3 L638.7 461.7 L640.7 458.2 L642.6 454.8 L644.7 451.3 L646.7 447.8 L648.8 444.4 L650.9 440.9 L653.0 437.5 L655.1 434.1 L657.3 430.7 L659.4 427.4 L661.6 424.0 L663.9 420.7 L666.1 417.4 L668.4 414.1 L670.7 410.8 L673.1 407.5 L675.4 404.3 L677.8 401.0 L680.2 397.8 L682.7 394.6 L685.2 391.5 L687.7 388.3 L690.2 385.2 L692.7 382.0 L695.3 378.9 L697.9 375.8 L700.5 372.8 L703.2 369.7 L705.9 366.6 L708.6 363.6 L711.3 360.6 L714.0 357.5 L716.8 354.5 L719.6 351.6 L722.4 348.6 L725.3 345.8 L728.3 343.0 L731.4 340.4 L734.5 337.9 L737.8 335.6 L741.2 333.4 L744.7 331.5 L748.3 329.8 L752.1 328.3 L755.9 326.9 L759.8 325.8 L763.8 324.9 L767.8 324.1 L771.8 323.6 L775.9 323.2 L780.0 323.0 L784.1 323.0 L788.2 323.2 L792.3 323.6 L796.3 324.1 L800.3 324.8 L804.2 325.6 L808.1 326.6 L811.9 327.8 L815.5 329.2 L819.1 330.7 L822.6 332.3 L826.0 334.1 L829.3 336.0 L832.5 338.1 L835.6 340.3 L838.6 342.6 L841.6 345.0 L844.5 347.6 L847.3 350.2 L850.0 353.0 L852.7 355.8 L855.3 358.7 L857.8 361.8 L860.3 364.9 L862.7 368.0 L865.1 371.3 L867.4 374.6 L869.7 378.0 L872.0 381.4 L874.2 384.8 L876.3 388.4 L878.4 391.9 L880.5 395.5 L882.6 399.1 L884.6 402.7 L886.7 406.4 L888.7 410.0 L890.6 413.7 L892.6 417.3 L894.6 421.0 L896.5 424.7 L898.5 428.3 L900.4 432.0 L902.3 435.6 L904.2 439.3 L906.1 442.9 L907.9 446.6 L909.8 450.2 L911.7 453.9 L913.5 457.5 L915.3 461.1 L917.2 464.8 L919.0 468.4 L920.8 472.1 L922.5 475.7 L924.3 479.4 L926.1 483.0 L927.8 486.7 L929.6 490.3 L931.3 494.0 L933.0 497.6 L934.7 501.3 L936.4 504.9 L938.1 508.6 L939.7 512.2 L941.4 515.9 L943.0 519.5 L944.7 523.2 L946.3 526.9 L947.9 530.5 L949.5 534.2 L951.1 537.9 L952.7 541.5 L954.3 545.2 L955.8 548.9 L957.4 552.6 L958.9 556.2 L960.4 559.9 L962.0 563.6 L963.5 567.3 L965.0 571.0 L966.4 574.7 L967.9 578.4 L969.4 582.1 L970.8 585.8 L972.3 589.5 L973.7 593.2 L975.1 596.9 L976.5 600.7 L977.9 604.4 L979.3 608.1 L980.7 611.9 L982.1 615.6 L983.4 619.3 L984.8 623.1 L986.1 626.9 L987.4 630.6 L988.7 634.4 L990.1 638.2 L991.3 641.9 L992.6 645.7 L993.9 649.5 L995.2 653.3 L996.4 657.1 L997.7 660.9 L998.9 664.7 L1000.1 668.5 L1001.4 672.4 L1002.6 676.2 L1003.8 680.1 L1004.9 683.9 L1006.1 687.8 L1007.3 691.6 L1008.4 695.5 L1009.6 699.4 L1010.7 703.2 L1011.9 707.1 L1013.0 711.0 L1014.1 714.9 L1015.2 718.9 L1016.3 722.8 L1017.3 726.7 L1018.4 730.7 L1019.5 734.6 L1020.5 738.6 L1021.6 742.5 L1022.6 746.5 L1023.6 750.5 L1024.6 754.5 L1025.6 758.5 L1026.6 762.5 L1027.6 766.5 L1028.6 770.5" stroke-width="4.4"/>
<path d="M541.1 711.1 L541.9 707.1 L542.6 703.1 L543.3 699.1 L544.0 695.1 L544.7 691.0 L545.5 687.0 L546.2 683.0 L546.9 679.0 L547.7 674.9 L548.5 670.9 L549.3 666.9 L550.1 662.9 L551.0 658.9 L551.8 654.9 L552.8 650.9 L553.7 647.0 L554.7 643.0 L555.7 639.1 L556.8 635.2 L558.0 631.3 L559.2 627.4 L560.4 623.5 L561.7 619.7 L563.1 615.9 L564.6 612.1 L566.1 608.4 L567.6 604.6 L569.3 600.9 L570.9 597.3 L572.7 593.6 L574.4 589.9 L576.2 586.3 L578.0 582.7 L579.8 579.0 L581.7 575.4 L583.5 571.8 L585.4 568.2 L587.3 564.6 L589.1 561.0 L591.0 557.3 L592.8 553.7 L594.6 550.1 L596.4 546.4 L598.2 542.8 L600.0 539.1 L601.8 535.4 L603.6 531.8 L605.4 528.1 L607.2 524.5 L609.0 520.8 L610.7 517.1 L612.5 513.5 L614.3 509.8 L616.1 506.2 L617.9 502.5 L619.7 498.9 L621.5 495.2 L623.3 491.6 L625.2 487.9 L627.0 484.3 L628.9 480.7 L630.7 477.1 L632.6 473.5 L634.5 469.9 L636.4 466.3 L638.3 462.7 L640.3 459.2 L642.3 455.6 L644.2 452.1 L646.3 448.6 L648.3 445.1 L650.3 441.6 L652.4 438.1 L654.5 434.6 L656.7 431.2 L658.9 427.7 L661.0 424.3 L663.3 420.9 L665.5 417.6 L667.8 414.2 L670.2 410.9 L672.5 407.6 L674.9 404.3 L677.4 401.0 L679.9 397.8 L682.4 394.6 L685.0 391.4 L687.6 388.2 L690.2 385.1 L692.9 382.0 L695.6 378.9 L698.4 375.8" stroke-width="6.2"/>
<path d="M697.6 414.3 L701.7 414.3 L705.5 415.0 L709.1 416.4 L712.5 418.2 L715.8 420.5 L718.9 423.0 L721.9 425.8 L724.8 428.7 L727.6 431.7 L730.2 434.7 L732.8 437.8 L735.3 441.0 L737.7 444.3 L740.0 447.6 L742.2 451.0 L744.4 454.4 L746.4 457.9 L748.5 461.4 L750.4 464.9 L752.4 468.5 L754.2 472.1 L756.1 475.7 L757.9 479.4 L759.6 483.1 L761.4 486.7 L763.1 490.4 L764.8 494.1 L766.4 497.8 L768.1 501.5 L769.7 505.3 L771.3 509.0 L772.9 512.7 L774.5 516.5 L776.0 520.2 L777.6 524.0 L779.1 527.7 L780.5 531.5 L782.0 535.3 L783.4 539.1 L784.9 542.9 L786.3 546.7 L787.7 550.5 L789.0 554.3 L790.4 558.1 L791.7 561.9 L793.0 565.7 L794.3 569.6 L795.6 573.4 L796.9 577.3 L798.1 581.1 L799.4 585.0 L800.6 588.8 L801.8 592.7 L803.0 596.6 L804.2 600.4 L805.3 604.3 L806.5 608.2 L807.6 612.1 L808.7 616.0 L809.8 619.9 L810.9 623.8 L812.0 627.7 L813.1 631.6 L814.1 635.5 L815.2 639.4 L816.2 643.4 L817.2 647.3 L818.2 651.2 L819.2 655.2 L820.2 659.1 L821.2 663.0 L822.2 667.0 L823.1 670.9 L824.1 674.9 L825.0 678.8 L825.9 682.8 L826.8 686.7 L827.7 690.7 L828.7 694.6 L829.5 698.6 L830.4 702.5 L831.3 706.5 L832.2 710.5 L833.1 714.4 L833.9 718.4 L834.8 722.3 L835.6 726.3 L836.5 730.3 L837.3 734.3 L838.1 738.2 L839.0 742.2 L839.8 746.2 L840.6 750.1 L841.4 754.1 L842.2 758.1 L843.0 762.0 L843.8 766.0 L844.6 770.0" stroke-width="4.4"/>
</g>
</g>
</svg></body></html>
